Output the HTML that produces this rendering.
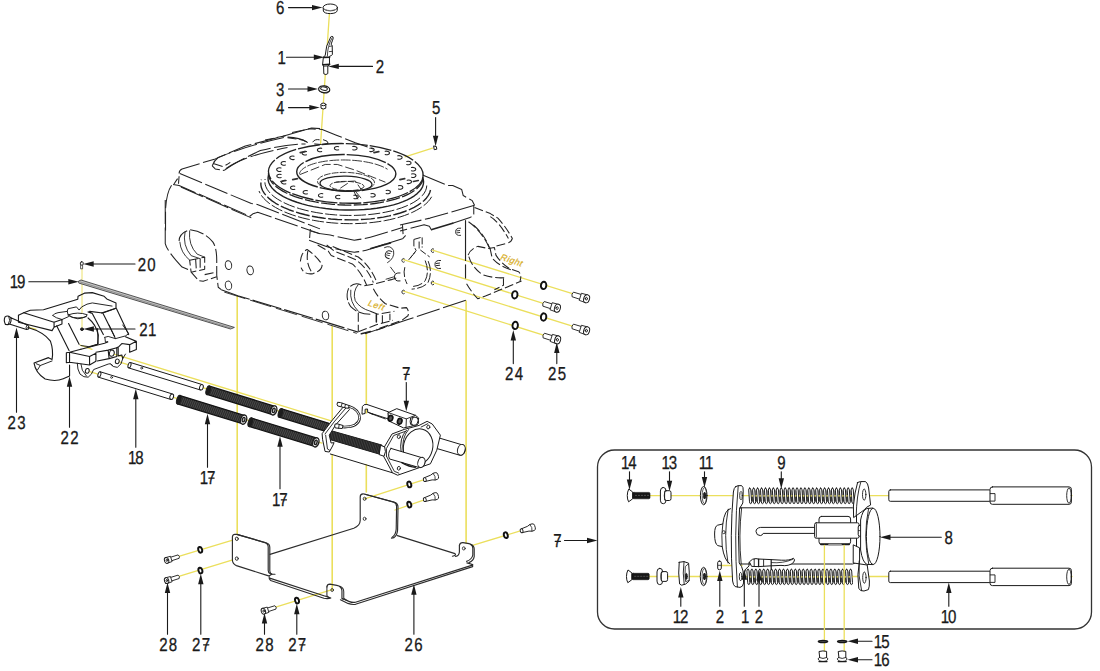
<!DOCTYPE html>
<html lang="en">
<head>
<meta charset="utf-8">
<title>Exploded view - parts diagram</title>
<style>
html,body{margin:0;padding:0;background:#fff;}
body{width:1100px;height:671px;overflow:hidden;font-family:"Liberation Sans",sans-serif;}
svg{display:block;}
svg text{font-family:"Liberation Sans",sans-serif;text-rendering:geometricPrecision;}
</style>
</head>
<body>
<svg width="1100" height="671" viewBox="0 0 1100 671" stroke-linecap="round" stroke-linejoin="round">
<rect x="0" y="0" width="1100" height="671" fill="#ffffff"/>
<line x1="329.4" y1="13.6" x2="320.6" y2="143.6" stroke="#ebdf5c" stroke-width="1.3"/>
<line x1="405" y1="156.8" x2="432.5" y2="148.2" stroke="#ebdf5c" stroke-width="1.3"/>
<line x1="237.2" y1="296.5" x2="237.2" y2="534" stroke="#ebdf5c" stroke-width="1.6"/>
<line x1="332.2" y1="326.5" x2="332.2" y2="590" stroke="#ebdf5c" stroke-width="1.6"/>
<line x1="366.3" y1="334" x2="366.3" y2="492" stroke="#ebdf5c" stroke-width="1.6"/>
<line x1="466.1" y1="301" x2="466.1" y2="543" stroke="#ebdf5c" stroke-width="1.6"/>
<line x1="432.5" y1="250.2" x2="574" y2="294.2" stroke="#ebdf5c" stroke-width="1.3"/>
<line x1="403.5" y1="259.6" x2="544" y2="303.6" stroke="#ebdf5c" stroke-width="1.3"/>
<line x1="432.5" y1="282.4" x2="574" y2="326.6" stroke="#ebdf5c" stroke-width="1.3"/>
<line x1="403.5" y1="291.2" x2="545" y2="335.6" stroke="#ebdf5c" stroke-width="1.3"/>
<line x1="82" y1="268" x2="82" y2="328" stroke="#ebdf5c" stroke-width="0.9"/>
<line x1="26.4" y1="326.6" x2="36" y2="329.4" stroke="#ebdf5c" stroke-width="1.3"/>
<line x1="111.7" y1="353.4" x2="332" y2="421.1" stroke="#ebdf5c" stroke-width="1.3"/>
<line x1="117.4" y1="361.4" x2="331" y2="427.1" stroke="#ebdf5c" stroke-width="1.3"/>
<line x1="87.3" y1="370.9" x2="322" y2="443.1" stroke="#ebdf5c" stroke-width="1.3"/>
<line x1="80" y1="345" x2="92" y2="349.4" stroke="#ebdf5c" stroke-width="1.3"/>
<line x1="236.8" y1="538.8" x2="178" y2="556.6" stroke="#ebdf5c" stroke-width="1.3"/>
<line x1="236.8" y1="558.6" x2="178" y2="576.6" stroke="#ebdf5c" stroke-width="1.3"/>
<line x1="332" y1="589.6" x2="274" y2="607.6" stroke="#ebdf5c" stroke-width="1.3"/>
<line x1="364.5" y1="498.8" x2="425" y2="479.4" stroke="#ebdf5c" stroke-width="1.3"/>
<line x1="395" y1="510" x2="425" y2="499.6" stroke="#ebdf5c" stroke-width="1.3"/>
<line x1="472.5" y1="545.4" x2="522" y2="530.4" stroke="#ebdf5c" stroke-width="1.3"/>
<line x1="649" y1="495.6" x2="1072" y2="495.6" stroke="#ebdf5c" stroke-width="1.3"/>
<line x1="649" y1="576.5" x2="1072" y2="576.5" stroke="#ebdf5c" stroke-width="1.3"/>
<line x1="721" y1="565.5" x2="742" y2="565.5" stroke="#ebdf5c" stroke-width="1.3"/>
<path d="M179.09 173.48Q179.09 170.17 182.1 168.96L215.22 158.88L245.33 146.08L282.97 136.29L311.58 128.01L320.01 128.61" stroke="#222" stroke-width="1.05" fill="none" stroke-dasharray="24 3.6" stroke-linecap="butt"/>
<path d="M179.84 173.48L216.73 188.99L251.36 203.59L257.38 204.49L269.42 209.31L320.01 228.88" stroke="#222" stroke-width="1.05" fill="none" stroke-dasharray="24 3.6" stroke-linecap="butt"/>
<path d="M173.07 184.47L179.09 185.52L249.85 216.24L252.86 213.83L257.68 212.32L320.01 233.7" stroke="#222" stroke-width="1.05" fill="none" stroke-dasharray="24 3.6" stroke-linecap="butt"/>
<path d="M180.9 187.03L251.36 217.89" stroke="#222" stroke-width="1.05" fill="none" stroke-dasharray="24 3.6" stroke-linecap="butt"/>
<path d="M179.09 176.19L178.49 183.72M177.58 178.6L173.97 184.02" stroke="#222" stroke-width="1.05" fill="none" stroke-dasharray="9 3" stroke-linecap="butt"/>
<path d="M171.56 185.22Q166.44 192.75 165.54 209.31L165.54 230.39" stroke="#222" stroke-width="1.05" fill="none" stroke-dasharray="24 3.6" stroke-linecap="butt"/>
<path d="M212.21 165.95Q214.02 160.53 218.23 157.52Q245.33 146.08 285.98 137.04Q299.53 137.65 307.06 141.86" stroke="#222" stroke-width="1.05" fill="none" stroke-dasharray="24 3.6" stroke-linecap="butt"/>
<path d="M224.26 170.47Q233.29 162.94 260.39 150.59Q284.48 144.27 305.56 143.97" stroke="#222" stroke-width="1.05" fill="none" stroke-dasharray="24 3.6" stroke-linecap="butt"/>
<path d="M212.21 165.95L215.22 168.96L224.26 170.47M214.02 163.84L223.05 166.55Q227.27 164.45 230.28 162.34" stroke="#222" stroke-width="1.05" fill="none" stroke-dasharray="9 3" stroke-linecap="butt"/>
<path d="M225.76 168.66Q245.33 155.11 287.49 147.58" stroke="#222" stroke-width="1.05" fill="none" stroke-dasharray="24 3.6" stroke-linecap="butt"/>
<ellipse cx="345.8" cy="173.4" rx="77.4" ry="29.8" stroke="#222" stroke-width="1.35" fill="none" transform="rotate(1.5 345.8 173.4)" stroke-dasharray="22 2" stroke-linecap="butt"/>
<path d="M423.17 177.23 L422.87 179.56 L422.1 181.86 L420.85 184.12 L419.15 186.33 L416.99 188.47 L414.39 190.53 L411.36 192.49 L407.94 194.35 L404.13 196.09 L399.96 197.7 L395.46 199.17 L390.65 200.49 L385.56 201.66 L380.23 202.66 L374.69 203.5 L368.97 204.16 L363.1 204.64 L357.13 204.94 L351.09 205.06 L345.02 204.99 L338.95 204.74 L332.93 204.31 L326.98 203.69 L321.15 202.91 L315.47 201.95 L309.98 200.82 L304.71 199.54 L299.69 198.11 L294.96 196.54 L290.54 194.83 L286.46 193.01 L282.75 191.07 L279.42 189.04 L276.51 186.92 L274.02 184.73 L271.97 182.48 L270.38 180.18 L269.26 177.86 L268.6 175.52 L268.43 173.17" stroke="#222" stroke-width="1.3" fill="none" stroke-dasharray="14 2.4" stroke-linecap="butt"/>
<path d="M423.23 179.11 L423.57 181.61 L423.37 184.1 L422.63 186.57 L421.34 188.99 L419.53 191.34 L417.19 193.62 L414.36 195.81 L411.05 197.88 L407.28 199.83 L403.07 201.65 L398.47 203.31 L393.5 204.81 L388.19 206.14 L382.58 207.29 L376.72 208.24 L370.64 209 L364.39 209.56 L358 209.91 L351.53 210.06 L345.02 209.99 L338.51 209.71 L332.06 209.23 L325.7 208.55 L319.49 207.66 L313.45 206.59 L307.65 205.32 L302.11 203.89 L296.88 202.28 L291.99 200.52 L287.48 198.62 L283.38 196.59 L279.72 194.44 L276.52 192.2 L273.8 189.87 L271.59 187.47 L269.9 185.02 L268.75 182.54 L268.13 180.04 L268.06 177.54 L268.53 175.06" stroke="#222" stroke-width="1.4" fill="none"/>
<path d="M426.77 185.52 L426.44 188.08 L425.6 190.61 L424.24 193.09 L422.37 195.51 L420.01 197.85 L417.17 200.1 L413.87 202.24 L410.14 204.26 L405.98 206.15 L401.45 207.88 L396.55 209.46 L391.32 210.88 L385.81 212.11 L380.03 213.16 L374.04 214.02 L367.86 214.69 L361.54 215.15 L355.12 215.4 L348.64 215.45 L342.14 215.3 L335.66 214.93 L329.25 214.37 L322.95 213.6 L316.79 212.64 L310.82 211.5 L305.08 210.17 L299.59 208.67 L294.41 207 L289.56 205.19 L285.07 203.23 L280.97 201.14 L277.28 198.95 L274.04 196.65 L271.26 194.26 L268.97 191.81 L267.16 189.3 L265.87 186.76 L265.09 184.19 L264.82 181.61 L265.08 179.05" stroke="#222" stroke-width="1" fill="none" stroke-dasharray="12 2.4" stroke-linecap="butt"/>
<path d="M430.5 190.02 L429.69 192.71 L428.36 195.36 L426.5 197.95 L424.13 200.45 L421.27 202.86 L417.94 205.17 L414.15 207.34 L409.92 209.38 L405.3 211.27 L400.3 212.99 L394.96 214.54 L389.3 215.91 L383.37 217.09 L377.21 218.06 L370.85 218.83 L364.33 219.39 L357.69 219.73 L350.98 219.86 L344.23 219.77 L337.5 219.46 L330.81 218.94 L324.23 218.21 L317.77 217.27 L311.5 216.13 L305.44 214.8 L299.63 213.28 L294.12 211.58 L288.93 209.72 L284.1 207.71 L279.66 205.56 L275.64 203.28 L272.06 200.88 L268.94 198.39 L266.31 195.82 L264.17 193.18 L262.56 190.49 L261.47 187.77 L260.9 185.04 L260.88 182.31 L261.39 179.59" stroke="#222" stroke-width="1.4" fill="none" stroke-dasharray="14 2.4" stroke-linecap="butt"/>
<path d="M431.65 196.78 L430.12 199.2 L428.19 201.55 L425.87 203.84 L423.17 206.05 L420.1 208.16 L416.68 210.18 L412.92 212.08 L408.84 213.87 L404.47 215.53 L399.81 217.05 L394.9 218.42 L389.75 219.65 L384.4 220.72 L378.86 221.63 L373.17 222.38 L367.34 222.96 L361.42 223.37 L355.41 223.6 L349.37 223.66 L343.3 223.54 L337.25 223.25 L331.24 222.79 L325.3 222.16 L319.45 221.36 L313.73 220.39 L308.17 219.27 L302.78 217.99 L297.6 216.57 L292.64 215 L287.94 213.3 L283.51 211.48 L279.38 209.54 L275.56 207.49 L272.08 205.34 L268.95 203.1 L266.18 200.79 L263.79 198.42 L261.79 195.98 L260.19 193.51 L259 191" stroke="#222" stroke-width="1" fill="none" stroke-dasharray="12 2.4" stroke-linecap="butt"/>
<ellipse cx="346.3" cy="172.8" rx="49.6" ry="18.2" stroke="#222" stroke-width="1.4" fill="none" transform="rotate(1.5 346.3 172.8)" stroke-dasharray="40 2" stroke-linecap="butt"/>
<path d="M299.53 173.38 L299.91 172.38 L300.47 171.4 L301.22 170.44 L302.15 169.5 L303.26 168.59 L304.53 167.7 L305.98 166.85 L307.58 166.04 L309.34 165.26 L311.25 164.53 L313.3 163.84 L315.48 163.21 L317.79 162.62 L320.2 162.09 L322.73 161.61 L325.34 161.19 L328.04 160.83 L330.82 160.53 L333.65 160.29 L336.54 160.12 L339.47 160.01 L342.42 159.96 L345.39 159.98 L348.36 160.06 L351.32 160.2 L354.27 160.41 L357.18 160.68 L360.05 161.01 L362.86 161.41 L365.61 161.86 L368.28 162.36 L370.86 162.92 L373.34 163.54 L375.72 164.2 L377.97 164.91 L380.1 165.67 L382.1 166.46 L383.95 167.3 L385.65 168.17 L387.2 169.07" stroke="#222" stroke-width="0.9" fill="none" stroke-dasharray="9 2.4"/>
<ellipse cx="346" cy="183.8" rx="26" ry="7.6" stroke="#222" stroke-width="1.3" fill="none" transform="rotate(1.5 346 183.8)"/>
<path d="M321.2 186.15 L319.82 185.18 L318.75 184.17 L318.01 183.14 L317.6 182.09 L317.52 181.04 L317.79 180.01 L318.39 178.99 L319.31 178.02 L320.56 177.09 L322.11 176.21 L323.94 175.41 L326.03 174.69 L328.36 174.05 L330.9 173.51 L333.62 173.06 L336.49 172.73 L339.47 172.5 L342.53 172.39 L345.63 172.39 L348.73 172.5 L351.8 172.73 L354.81 173.07 L357.7 173.52 L360.46 174.06 L363.05 174.7 L365.43 175.43 L367.59 176.23 L369.48 177.11 L371.1 178.04 L372.42 179.02 L373.42 180.03 L374.1 181.07 L374.45 182.12 L374.45 183.16 L374.12 184.2 L373.45 185.2 L372.46 186.17 L371.16 187.09 L369.55 187.95 L367.66 188.74" stroke="#222" stroke-width="0.9" fill="none" stroke-dasharray="6 2"/>
<ellipse cx="347" cy="186" rx="17" ry="4.6" stroke="#222" stroke-width="0.9" fill="none" transform="rotate(1.5 347 186)" stroke-dasharray="5 2"/>
<path d="M335.76 182.21L355.33 181.01L361.36 189.74M340.28 188.23L349.31 182.21M353.83 191.25L358.35 200.28M355.33 191.25L362.86 200.28M299.63 174.68L325.22 164.45L337.27 164.45L355.33 170.17L385.45 182.21" stroke="#222" stroke-width="0.9" fill="none" stroke-dasharray="9 3" stroke-linecap="butt"/>
<path d="M411.6 174 A3.0 1.8 0 1 1 411.6 177.2" stroke="#222" stroke-width="1.05" fill="none"/>
<path d="M407.18 180.22 A3.0 1.8 0 1 1 407.18 183.42" stroke="#222" stroke-width="1.05" fill="none"/>
<path d="M398.49 185.8 A3.0 1.8 0 1 1 398.49 189" stroke="#222" stroke-width="1.05" fill="none"/>
<path d="M386.12 190.39 A3.0 1.8 0 1 1 386.12 193.59" stroke="#222" stroke-width="1.05" fill="none"/>
<path d="M370.91 193.64 A3.0 1.8 0 1 1 370.91 196.84" stroke="#222" stroke-width="1.05" fill="none"/>
<path d="M353.91 195.36 A3.0 1.8 0 1 1 353.91 198.56" stroke="#222" stroke-width="1.05" fill="none"/>
<path d="M339.86 195.42 A3.0 1.8 0 1 0 339.86 198.62" stroke="#222" stroke-width="1.05" fill="none"/>
<path d="M322.78 193.81 A3.0 1.8 0 1 0 322.78 197.01" stroke="#222" stroke-width="1.05" fill="none"/>
<path d="M307.42 190.65 A3.0 1.8 0 1 0 307.42 193.85" stroke="#222" stroke-width="1.05" fill="none"/>
<path d="M294.83 186.15 A3.0 1.8 0 1 0 294.83 189.35" stroke="#222" stroke-width="1.05" fill="none"/>
<path d="M285.87 180.61 A3.0 1.8 0 1 0 285.87 183.81" stroke="#222" stroke-width="1.05" fill="none"/>
<path d="M281.16 174.42 A3.0 1.8 0 1 0 281.16 177.62" stroke="#222" stroke-width="1.05" fill="none"/>
<path d="M281 168 A3.0 1.8 0 1 0 281 171.2" stroke="#222" stroke-width="1.05" fill="none"/>
<path d="M285.42 161.78 A3.0 1.8 0 1 0 285.42 164.98" stroke="#222" stroke-width="1.05" fill="none"/>
<path d="M294.11 156.2 A3.0 1.8 0 1 0 294.11 159.4" stroke="#222" stroke-width="1.05" fill="none"/>
<path d="M306.48 151.61 A3.0 1.8 0 1 0 306.48 154.81" stroke="#222" stroke-width="1.05" fill="none"/>
<path d="M321.69 148.36 A3.0 1.8 0 1 0 321.69 151.56" stroke="#222" stroke-width="1.05" fill="none"/>
<path d="M338.69 146.64 A3.0 1.8 0 1 0 338.69 149.84" stroke="#222" stroke-width="1.05" fill="none"/>
<path d="M352.74 146.58 A3.0 1.8 0 1 1 352.74 149.78" stroke="#222" stroke-width="1.05" fill="none"/>
<path d="M369.82 148.19 A3.0 1.8 0 1 1 369.82 151.39" stroke="#222" stroke-width="1.05" fill="none"/>
<path d="M385.18 151.35 A3.0 1.8 0 1 1 385.18 154.55" stroke="#222" stroke-width="1.05" fill="none"/>
<path d="M397.77 155.85 A3.0 1.8 0 1 1 397.77 159.05" stroke="#222" stroke-width="1.05" fill="none"/>
<path d="M406.73 161.39 A3.0 1.8 0 1 1 406.73 164.59" stroke="#222" stroke-width="1.05" fill="none"/>
<path d="M411.44 167.58 A3.0 1.8 0 1 1 411.44 170.78" stroke="#222" stroke-width="1.05" fill="none"/>
<line x1="292.71" y1="179.7" x2="297.51" y2="178.7" stroke="#333" stroke-width="1.7"/>
<line x1="280.97" y1="181.51" x2="285.77" y2="180.51" stroke="#333" stroke-width="1.7"/>
<line x1="399.91" y1="179.7" x2="404.71" y2="178.7" stroke="#333" stroke-width="1.7"/>
<line x1="413.46" y1="181.51" x2="418.26" y2="180.51" stroke="#333" stroke-width="1.7"/>
<line x1="374.01" y1="152.6" x2="378.81" y2="151.6" stroke="#333" stroke-width="1.7"/>
<line x1="300.24" y1="152.6" x2="305.04" y2="151.6" stroke="#333" stroke-width="1.7"/>
<path d="M312.88 141.86Q314.68 138.85 319.2 139.75M323.42 139.75Q328.23 140.66 328.23 143.37Q322.21 145.48 314.68 143.97" stroke="#222" stroke-width="1" fill="none"/>
<path d="M292.1 132.53L310.17 128.76L322.21 129.52L335.76 134.94L355.33 142.77L373.4 149.09" stroke="#222" stroke-width="1.05" fill="none" stroke-dasharray="24 3.6" stroke-linecap="butt"/>
<path d="M265 140.06L286.08 135.54M287.58 137.65L302.64 140.06L308.66 143.07" stroke="#222" stroke-width="1.05" fill="none" stroke-dasharray="9 3" stroke-linecap="butt"/>
<path d="M422.58 175.06L448.18 185.59L452.69 185.59L461.73 189.51L463.23 195.53L472.27 200.65L474.53 205.17" stroke="#222" stroke-width="1.05" fill="none" stroke-dasharray="24 3.6" stroke-linecap="butt"/>
<path d="M474.53 205.17L430.11 218.12L400 225.04" stroke="#222" stroke-width="1.05" fill="none" stroke-dasharray="24 3.6" stroke-linecap="butt"/>
<path d="M473.77 205.47L473.77 214.2L470.76 217.21" stroke="#222" stroke-width="1.05" fill="none" stroke-dasharray="9 3" stroke-linecap="butt"/>
<path d="M470.76 217.21L452.69 223.23M431.62 230.16L429.36 226.25L424.09 224.74L400 231.06" stroke="#222" stroke-width="1.05" fill="none" stroke-dasharray="24 3.6" stroke-linecap="butt"/>
<path d="M431.92 229.56L452.69 223.23" stroke="#222" stroke-width="1.7" fill="none"/>
<path d="M465.52 220.48L465.52 260.53M465.52 264.75L465.52 278" stroke="#222" stroke-width="1.15" fill="none"/>
<path d="M474.53 207.58L490.33 213.6L497.86 218.12Q505.39 226.25 512.32 238.29Q511.41 242.51 505.39 243.71L496.36 246.12" stroke="#222" stroke-width="1.05" fill="none" stroke-dasharray="9 3" stroke-linecap="butt"/>
<path d="M490.33 216.61Q499.37 222.03 508.4 238.59" stroke="#222" stroke-width="1.05" fill="none" stroke-dasharray="9 3" stroke-linecap="butt"/>
<path d="M468.5 221.73Q481.3 230.76 489.13 247.32" stroke="#222" stroke-width="1.05" fill="none" stroke-dasharray="9 3" stroke-linecap="butt"/>
<path d="M473.35 225Q485.39 235.54 489.91 249.09M466.57 283.72Q471.84 292.75 477.86 298.77L485.39 296.06L521.52 281.01" stroke="#222" stroke-width="1.05" fill="none" stroke-dasharray="9 3" stroke-linecap="butt"/>
<path d="M468.08 255.11Q470.33 249.09 477.86 246.38L488.4 248.49L494.42 247.58L495.93 255.11Q500.45 262.64 509.48 268.66L518.51 271.67Q522.13 274.68 520.02 281.01" stroke="#222" stroke-width="1.05" fill="none" stroke-dasharray="9 3" stroke-linecap="butt"/>
<path d="M468.83 256.62Q471.84 267.16 482.38 274.68Q494.42 278.6 504.96 277.69M503.46 277.69L503.46 285.22L494.42 289.74M489.91 247.58L492.17 258.12Q500.45 267.16 512.49 270.17" stroke="#222" stroke-width="1.05" fill="none" stroke-dasharray="9 3" stroke-linecap="butt"/>
<path d="M465.82 300.28L407.1 319.85L364.94 333.7" stroke="#222" stroke-width="1.05" fill="none" stroke-dasharray="24 3.6" stroke-linecap="butt"/>
<path d="M404.84 267.16Q402.58 274.68 407.1 284.02M408.61 259.93L414.93 252.4M428.18 261.13Q432.69 271.67 428.18 282.21Q423.66 288.23 411.62 289.14M425.17 260.53Q429.68 271.67 425.17 280.71Q420.65 285.83 413.12 286.43" stroke="#222" stroke-width="1" fill="none" stroke-dasharray="10 2.4" stroke-linecap="butt"/>
<path d="M413.88 239.45L422.16 237.04L422.16 247.58M413.88 239.45L413.88 246.08L416.13 250.59L410.11 258.12M419.14 241.56L419.14 249.09L425.17 253.61L429.68 256.92" stroke="#222" stroke-width="1" fill="none" stroke-dasharray="7 2" stroke-linecap="butt"/>
<g transform="translate(388.28 254.36) rotate(20) scale(0.95)" fill="none" stroke="#222" stroke-width="1"><path d="M2.6 -4 Q-3 -4.6 -3 0 Q-3 4.8 2.6 4"/><path d="M-1.6 -1 L1.6 -1.4 M-1.6 1.2 L1.6 0.8"/></g>
<g transform="translate(397.46 276.94) rotate(0) scale(1)" fill="none" stroke="#222" stroke-width="1"><path d="M2.6 -4 Q-3 -4.6 -3 0 Q-3 4.8 2.6 4"/></g>
<g transform="translate(437.96 264.45) rotate(0) scale(1)" fill="none" stroke="#222" stroke-width="1"><path d="M2.6 -4 Q-3 -4.6 -3 0 Q-3 4.8 2.6 4"/><path d="M-1.6 -1 L1.6 -1.4 M-1.6 1.2 L1.6 0.8"/></g>
<g transform="translate(458.29 231.78) rotate(0) scale(0.9)" fill="none" stroke="#222" stroke-width="1"><path d="M2.6 -4 Q-3 -4.6 -3 0 Q-3 4.8 2.6 4"/><path d="M-1.6 -1 L1.6 -1.4 M-1.6 1.2 L1.6 0.8"/></g>
<path d="M384.52 247.58Q390.54 244.57 393.55 250.59Q395.06 258.12 387.53 262.64M390.54 267.16L395.06 273.18M386.02 279.2L393.55 276.94" stroke="#222" stroke-width="0.9" fill="none"/>
<path d="M433.69 248.99 A1.6 1.9 0 1 0 433.69 252.19" stroke="#222" stroke-width="0.9" fill="none"/>
<path d="M404.34 258.78 A1.6 1.9 0 1 0 404.34 261.98" stroke="#222" stroke-width="0.9" fill="none"/>
<path d="M433.69 281.36 A1.6 1.9 0 1 0 433.69 284.56" stroke="#222" stroke-width="0.9" fill="none"/>
<path d="M404.34 290.4 A1.6 1.9 0 1 0 404.34 293.6" stroke="#222" stroke-width="0.9" fill="none"/>
<path d="M165.24 199.94L165.24 243.61Q167.04 251.13 182.1 267.09L189.63 270.1" stroke="#222" stroke-width="1.05" fill="none" stroke-dasharray="24 3.6" stroke-linecap="butt"/>
<path d="M179.09 240.9Q179.09 233.07 189.63 229.75Q204.68 231.56 212.96 242.1Q216.73 248.12 216.73 260.17L216.73 275.22L218.23 287.27L221.25 289.68" stroke="#222" stroke-width="1.05" fill="none" stroke-dasharray="14 3" stroke-linecap="butt"/>
<path d="M185.11 231.56Q182.1 245.11 191.13 255.65L200.17 258.66M189.63 230.81Q188.12 245.11 197.16 254.14L204.68 257.16M179.84 242.1Q180.59 252.64 189.63 260.17" stroke="#222" stroke-width="0.9" fill="none"/>
<path d="M189.63 260.17L204.68 257.16L204.68 269.2L191.13 272.21ZM195.65 259.41L196.4 271.01M200.17 258.66L200.17 270.1M191.13 272.21L198.66 280.64L203.18 281.25L216.73 276.73M204.68 274.62L216.73 272.21" stroke="#222" stroke-width="1.05" fill="none" stroke-dasharray="9 3" stroke-linecap="butt"/>
<path d="M221.25 289.68L237.81 295.7L320.01 320.39L358.25 332.13" stroke="#222" stroke-width="1.1" fill="none" stroke-dasharray="30 3" stroke-linecap="butt"/>
<path d="M224.26 292.09L320.01 321.9L356.75 333.34" stroke="#222" stroke-width="0.9" fill="none" stroke-dasharray="22 5" stroke-linecap="butt"/>
<ellipse cx="228.47" cy="265.14" rx="3.2" ry="4.4" stroke="#222" stroke-width="0.95" fill="none" transform="rotate(-10 228.47 265.14)"/>
<ellipse cx="250.15" cy="270.4" rx="3.2" ry="4.4" stroke="#222" stroke-width="0.95" fill="none" transform="rotate(-10 250.15 270.4)"/>
<ellipse cx="228.47" cy="285.46" rx="3.2" ry="4.4" stroke="#222" stroke-width="0.95" fill="none" transform="rotate(-10 228.47 285.46)"/>
<ellipse cx="325.5" cy="315.5" rx="3.2" ry="4.4" stroke="#222" stroke-width="0.95" fill="none" transform="rotate(-10 325.5 315.5)"/>
<path d="M300.33 261.56Q301.08 252.53 307.1 249.52Q316.13 255.54 322.16 264.57Q322.16 270.59 313.12 273.61Q304.09 275.11 301.08 267.58" stroke="#222" stroke-width="1.05" fill="none" stroke-dasharray="9 3" stroke-linecap="butt"/>
<path d="M307.85 251.02Q305.59 263.07 311.62 272.1" stroke="#222" stroke-width="1.05" fill="none" stroke-dasharray="9 3" stroke-linecap="butt"/>
<path d="M317.64 245L328.18 251.02L331.19 255.54L352.27 263.97Q361.3 272.1 366.57 285.05" stroke="#222" stroke-width="1.05" fill="none" stroke-dasharray="9 3" stroke-linecap="butt"/>
<path d="M326.67 245L334.2 251.02L355.28 259.45Q367.32 267.58 373.35 282.64" stroke="#222" stroke-width="1.05" fill="none" stroke-dasharray="9 3" stroke-linecap="butt"/>
<path d="M332.69 246.51L358.29 257.04Q370.33 266.08 376.36 281.13" stroke="#222" stroke-width="1.05" fill="none" stroke-dasharray="9 3" stroke-linecap="butt"/>
<path d="M364.31 285.65L373.35 284.14L391.41 279.63L396.23 278.12" stroke="#222" stroke-width="1.05" fill="none" stroke-dasharray="9 3" stroke-linecap="butt"/>
<path d="M361.3 285.05Q353.77 281.13 348.5 288.66Q344.74 297.69 350.76 306.73Q358.29 314.26 370.33 314.26" stroke="#222" stroke-width="1.05" fill="none" stroke-dasharray="12 2.4" stroke-linecap="butt"/>
<path d="M358.29 284.45Q352.27 291.67 355.28 300.71Q359.8 308.23 370.33 311.25M350.76 290.17Q349.26 302.21 358.29 311.25" stroke="#222" stroke-width="0.9" fill="none"/>
<path d="M373.35 288.66Q377.86 297.69 385.39 303.72L400.45 308.23L406.47 307.63Q409.48 311.25 407.97 315.76L401.95 320.28L376.36 329.31" stroke="#222" stroke-width="1.05" fill="none" stroke-dasharray="9 3" stroke-linecap="butt"/>
<path d="M358.29 312.75L358.29 331.12M382.38 315.16L382.38 323.29M389.91 313.65L389.91 320.28M358.29 331.72L376.36 324.8L392.92 320.28M370.33 311.25L377.86 314.26L394.42 311.25" stroke="#222" stroke-width="1.05" fill="none" stroke-dasharray="9 3" stroke-linecap="butt"/>
<path d="M376.36 314.56L376.36 322.09M361.3 333.83L370.33 331.42" stroke="#222" stroke-width="1.5" fill="none"/>
<path d="M376.36 330.22L394.42 323.89" stroke="#222" stroke-width="1.05" fill="none" stroke-dasharray="9 3" stroke-linecap="butt"/>
<path d="M310.65 231.13Q319.68 234.45 330.22 235.05Q342.27 237.76 354.31 240.17Q366.36 238.66 375.39 235.65L402.49 227.52" stroke="#222" stroke-width="1.05" fill="none" stroke-dasharray="24 3.6" stroke-linecap="butt"/>
<path d="M309.14 240.17L325.71 246.19Q340.76 250.71 354.31 252.21Q363.35 251.31 369.37 249.2L402.49 238.66" stroke="#222" stroke-width="1.05" fill="none" stroke-dasharray="24 3.6" stroke-linecap="butt"/>
<path d="M310.35 229.03L309.45 240.17M402.49 225.11L403.09 234.45L405.5 235.65L402.49 238.96" stroke="#222" stroke-width="1.05" fill="none" stroke-dasharray="9 3" stroke-linecap="butt"/>
<path d="M370.87 248.6L390.45 242.88" stroke="#222" stroke-width="1.6" fill="none"/>
<rect x="749.7" y="490.3" width="103.4" height="6.4" fill="#9a9a9a"/>
<rect x="749.7" y="496.5" width="103.4" height="5.2" fill="#4a4a4a"/>
<rect x="749.11" y="488.1" width="2.13" height="15.6" rx="1.06" ry="1.92" fill="#fff" stroke="#1e1e1e" stroke-width="0.95" transform="rotate(-4 750.17 495.9)"/>
<rect x="753.05" y="488.1" width="2.13" height="15.6" rx="1.06" ry="1.92" fill="#fff" stroke="#1e1e1e" stroke-width="0.95" transform="rotate(-4 754.11 495.9)"/>
<rect x="756.99" y="488.1" width="2.13" height="15.6" rx="1.06" ry="1.92" fill="#fff" stroke="#1e1e1e" stroke-width="0.95" transform="rotate(-4 758.05 495.9)"/>
<rect x="760.93" y="488.1" width="2.13" height="15.6" rx="1.06" ry="1.92" fill="#fff" stroke="#1e1e1e" stroke-width="0.95" transform="rotate(-4 761.99 495.9)"/>
<rect x="764.87" y="488.1" width="2.13" height="15.6" rx="1.06" ry="1.92" fill="#fff" stroke="#1e1e1e" stroke-width="0.95" transform="rotate(-4 765.93 495.9)"/>
<rect x="768.81" y="488.1" width="2.13" height="15.6" rx="1.06" ry="1.92" fill="#fff" stroke="#1e1e1e" stroke-width="0.95" transform="rotate(-4 769.87 495.9)"/>
<rect x="772.75" y="488.1" width="2.13" height="15.6" rx="1.06" ry="1.92" fill="#fff" stroke="#1e1e1e" stroke-width="0.95" transform="rotate(-4 773.81 495.9)"/>
<rect x="776.69" y="488.1" width="2.13" height="15.6" rx="1.06" ry="1.92" fill="#fff" stroke="#1e1e1e" stroke-width="0.95" transform="rotate(-4 777.76 495.9)"/>
<rect x="780.63" y="488.1" width="2.13" height="15.6" rx="1.06" ry="1.92" fill="#fff" stroke="#1e1e1e" stroke-width="0.95" transform="rotate(-4 781.7 495.9)"/>
<rect x="784.57" y="488.1" width="2.13" height="15.6" rx="1.06" ry="1.92" fill="#fff" stroke="#1e1e1e" stroke-width="0.95" transform="rotate(-4 785.64 495.9)"/>
<rect x="788.51" y="488.1" width="2.13" height="15.6" rx="1.06" ry="1.92" fill="#fff" stroke="#1e1e1e" stroke-width="0.95" transform="rotate(-4 789.58 495.9)"/>
<rect x="792.45" y="488.1" width="2.13" height="15.6" rx="1.06" ry="1.92" fill="#fff" stroke="#1e1e1e" stroke-width="0.95" transform="rotate(-4 793.52 495.9)"/>
<rect x="796.4" y="488.1" width="2.13" height="15.6" rx="1.06" ry="1.92" fill="#fff" stroke="#1e1e1e" stroke-width="0.95" transform="rotate(-4 797.46 495.9)"/>
<rect x="800.34" y="488.1" width="2.13" height="15.6" rx="1.06" ry="1.92" fill="#fff" stroke="#1e1e1e" stroke-width="0.95" transform="rotate(-4 801.4 495.9)"/>
<rect x="804.28" y="488.1" width="2.13" height="15.6" rx="1.06" ry="1.92" fill="#fff" stroke="#1e1e1e" stroke-width="0.95" transform="rotate(-4 805.34 495.9)"/>
<rect x="808.22" y="488.1" width="2.13" height="15.6" rx="1.06" ry="1.92" fill="#fff" stroke="#1e1e1e" stroke-width="0.95" transform="rotate(-4 809.28 495.9)"/>
<rect x="812.16" y="488.1" width="2.13" height="15.6" rx="1.06" ry="1.92" fill="#fff" stroke="#1e1e1e" stroke-width="0.95" transform="rotate(-4 813.22 495.9)"/>
<rect x="816.1" y="488.1" width="2.13" height="15.6" rx="1.06" ry="1.92" fill="#fff" stroke="#1e1e1e" stroke-width="0.95" transform="rotate(-4 817.16 495.9)"/>
<rect x="820.04" y="488.1" width="2.13" height="15.6" rx="1.06" ry="1.92" fill="#fff" stroke="#1e1e1e" stroke-width="0.95" transform="rotate(-4 821.1 495.9)"/>
<rect x="823.98" y="488.1" width="2.13" height="15.6" rx="1.06" ry="1.92" fill="#fff" stroke="#1e1e1e" stroke-width="0.95" transform="rotate(-4 825.04 495.9)"/>
<rect x="827.92" y="488.1" width="2.13" height="15.6" rx="1.06" ry="1.92" fill="#fff" stroke="#1e1e1e" stroke-width="0.95" transform="rotate(-4 828.99 495.9)"/>
<rect x="831.86" y="488.1" width="2.13" height="15.6" rx="1.06" ry="1.92" fill="#fff" stroke="#1e1e1e" stroke-width="0.95" transform="rotate(-4 832.93 495.9)"/>
<rect x="835.8" y="488.1" width="2.13" height="15.6" rx="1.06" ry="1.92" fill="#fff" stroke="#1e1e1e" stroke-width="0.95" transform="rotate(-4 836.87 495.9)"/>
<rect x="839.74" y="488.1" width="2.13" height="15.6" rx="1.06" ry="1.92" fill="#fff" stroke="#1e1e1e" stroke-width="0.95" transform="rotate(-4 840.81 495.9)"/>
<rect x="843.68" y="488.1" width="2.13" height="15.6" rx="1.06" ry="1.92" fill="#fff" stroke="#1e1e1e" stroke-width="0.95" transform="rotate(-4 844.75 495.9)"/>
<rect x="847.62" y="488.1" width="2.13" height="15.6" rx="1.06" ry="1.92" fill="#fff" stroke="#1e1e1e" stroke-width="0.95" transform="rotate(-4 848.69 495.9)"/>
<rect x="851.57" y="488.1" width="2.13" height="15.6" rx="1.06" ry="1.92" fill="#fff" stroke="#1e1e1e" stroke-width="0.95" transform="rotate(-4 852.63 495.9)"/>
<line x1="751.53" y1="495.9" x2="854.6" y2="495.9" stroke="#ebdf5c" stroke-width="1.2" stroke-dasharray="1.5 2.44" stroke-linecap="butt"/>
<rect x="747.9" y="571.4" width="103.6" height="6.3" fill="#9a9a9a"/>
<rect x="747.9" y="577.5" width="103.6" height="5.1" fill="#4a4a4a"/>
<rect x="747.31" y="569.2" width="2.13" height="15.4" rx="1.07" ry="1.92" fill="#fff" stroke="#1e1e1e" stroke-width="0.95" transform="rotate(-4 748.37 576.9)"/>
<rect x="751.26" y="569.2" width="2.13" height="15.4" rx="1.07" ry="1.92" fill="#fff" stroke="#1e1e1e" stroke-width="0.95" transform="rotate(-4 752.32 576.9)"/>
<rect x="755.2" y="569.2" width="2.13" height="15.4" rx="1.07" ry="1.92" fill="#fff" stroke="#1e1e1e" stroke-width="0.95" transform="rotate(-4 756.27 576.9)"/>
<rect x="759.15" y="569.2" width="2.13" height="15.4" rx="1.07" ry="1.92" fill="#fff" stroke="#1e1e1e" stroke-width="0.95" transform="rotate(-4 760.22 576.9)"/>
<rect x="763.1" y="569.2" width="2.13" height="15.4" rx="1.07" ry="1.92" fill="#fff" stroke="#1e1e1e" stroke-width="0.95" transform="rotate(-4 764.17 576.9)"/>
<rect x="767.05" y="569.2" width="2.13" height="15.4" rx="1.07" ry="1.92" fill="#fff" stroke="#1e1e1e" stroke-width="0.95" transform="rotate(-4 768.11 576.9)"/>
<rect x="771" y="569.2" width="2.13" height="15.4" rx="1.07" ry="1.92" fill="#fff" stroke="#1e1e1e" stroke-width="0.95" transform="rotate(-4 772.06 576.9)"/>
<rect x="774.95" y="569.2" width="2.13" height="15.4" rx="1.07" ry="1.92" fill="#fff" stroke="#1e1e1e" stroke-width="0.95" transform="rotate(-4 776.01 576.9)"/>
<rect x="778.89" y="569.2" width="2.13" height="15.4" rx="1.07" ry="1.92" fill="#fff" stroke="#1e1e1e" stroke-width="0.95" transform="rotate(-4 779.96 576.9)"/>
<rect x="782.84" y="569.2" width="2.13" height="15.4" rx="1.07" ry="1.92" fill="#fff" stroke="#1e1e1e" stroke-width="0.95" transform="rotate(-4 783.91 576.9)"/>
<rect x="786.79" y="569.2" width="2.13" height="15.4" rx="1.07" ry="1.92" fill="#fff" stroke="#1e1e1e" stroke-width="0.95" transform="rotate(-4 787.86 576.9)"/>
<rect x="790.74" y="569.2" width="2.13" height="15.4" rx="1.07" ry="1.92" fill="#fff" stroke="#1e1e1e" stroke-width="0.95" transform="rotate(-4 791.8 576.9)"/>
<rect x="794.69" y="569.2" width="2.13" height="15.4" rx="1.07" ry="1.92" fill="#fff" stroke="#1e1e1e" stroke-width="0.95" transform="rotate(-4 795.75 576.9)"/>
<rect x="798.63" y="569.2" width="2.13" height="15.4" rx="1.07" ry="1.92" fill="#fff" stroke="#1e1e1e" stroke-width="0.95" transform="rotate(-4 799.7 576.9)"/>
<rect x="802.58" y="569.2" width="2.13" height="15.4" rx="1.07" ry="1.92" fill="#fff" stroke="#1e1e1e" stroke-width="0.95" transform="rotate(-4 803.65 576.9)"/>
<rect x="806.53" y="569.2" width="2.13" height="15.4" rx="1.07" ry="1.92" fill="#fff" stroke="#1e1e1e" stroke-width="0.95" transform="rotate(-4 807.6 576.9)"/>
<rect x="810.48" y="569.2" width="2.13" height="15.4" rx="1.07" ry="1.92" fill="#fff" stroke="#1e1e1e" stroke-width="0.95" transform="rotate(-4 811.54 576.9)"/>
<rect x="814.43" y="569.2" width="2.13" height="15.4" rx="1.07" ry="1.92" fill="#fff" stroke="#1e1e1e" stroke-width="0.95" transform="rotate(-4 815.49 576.9)"/>
<rect x="818.37" y="569.2" width="2.13" height="15.4" rx="1.07" ry="1.92" fill="#fff" stroke="#1e1e1e" stroke-width="0.95" transform="rotate(-4 819.44 576.9)"/>
<rect x="822.32" y="569.2" width="2.13" height="15.4" rx="1.07" ry="1.92" fill="#fff" stroke="#1e1e1e" stroke-width="0.95" transform="rotate(-4 823.39 576.9)"/>
<rect x="826.27" y="569.2" width="2.13" height="15.4" rx="1.07" ry="1.92" fill="#fff" stroke="#1e1e1e" stroke-width="0.95" transform="rotate(-4 827.34 576.9)"/>
<rect x="830.22" y="569.2" width="2.13" height="15.4" rx="1.07" ry="1.92" fill="#fff" stroke="#1e1e1e" stroke-width="0.95" transform="rotate(-4 831.29 576.9)"/>
<rect x="834.17" y="569.2" width="2.13" height="15.4" rx="1.07" ry="1.92" fill="#fff" stroke="#1e1e1e" stroke-width="0.95" transform="rotate(-4 835.23 576.9)"/>
<rect x="838.12" y="569.2" width="2.13" height="15.4" rx="1.07" ry="1.92" fill="#fff" stroke="#1e1e1e" stroke-width="0.95" transform="rotate(-4 839.18 576.9)"/>
<rect x="842.06" y="569.2" width="2.13" height="15.4" rx="1.07" ry="1.92" fill="#fff" stroke="#1e1e1e" stroke-width="0.95" transform="rotate(-4 843.13 576.9)"/>
<rect x="846.01" y="569.2" width="2.13" height="15.4" rx="1.07" ry="1.92" fill="#fff" stroke="#1e1e1e" stroke-width="0.95" transform="rotate(-4 847.08 576.9)"/>
<rect x="849.96" y="569.2" width="2.13" height="15.4" rx="1.07" ry="1.92" fill="#fff" stroke="#1e1e1e" stroke-width="0.95" transform="rotate(-4 851.03 576.9)"/>
<line x1="749.74" y1="576.9" x2="853" y2="576.9" stroke="#ebdf5c" stroke-width="1.2" stroke-dasharray="1.5 2.45" stroke-linecap="butt"/>
<text transform="translate(367.0 305.2) rotate(19) skewX(-12)" font-size="8.8" fill="#d9b02c" stroke="#d9b02c" stroke-width="0.25" letter-spacing="0.7">Left</text>
<text transform="translate(499.6 259.2) rotate(19) skewX(-12)" font-size="8.8" fill="#d9b02c" stroke="#d9b02c" stroke-width="0.25" letter-spacing="0.5">Right</text>
<path d="M628.6 489.4 C626.8 492.6 626.8 498.6 628.6 501.8 L632.7 498.8 L632.7 492.4 Z" stroke="#1a1a1a" stroke-width="1" fill="#fff"/>
<rect x="632.7" y="492.4" width="17.3" height="6.4" rx="1.2" fill="#161616" stroke="#111" stroke-width="0.6"/>
<line x1="635.4" y1="495.4" x2="636.7" y2="495.4" stroke="#666" stroke-width="0.7"/>
<line x1="638.4" y1="495.4" x2="639.7" y2="495.4" stroke="#666" stroke-width="0.7"/>
<line x1="641.4" y1="495.4" x2="642.7" y2="495.4" stroke="#666" stroke-width="0.7"/>
<line x1="644.4" y1="495.4" x2="645.7" y2="495.4" stroke="#666" stroke-width="0.7"/>
<line x1="647.4" y1="495.4" x2="648.7" y2="495.4" stroke="#666" stroke-width="0.7"/>
<path d="M627.8 570.3 C626 573.5 626 579.5 627.8 582.7 L631.9 579.7 L631.9 573.3 Z" stroke="#1a1a1a" stroke-width="1" fill="#fff"/>
<rect x="631.9" y="573.3" width="17.3" height="6.4" rx="1.2" fill="#161616" stroke="#111" stroke-width="0.6"/>
<line x1="634.6" y1="576.3" x2="635.9" y2="576.3" stroke="#666" stroke-width="0.7"/>
<line x1="637.6" y1="576.3" x2="638.9" y2="576.3" stroke="#666" stroke-width="0.7"/>
<line x1="640.6" y1="576.3" x2="641.9" y2="576.3" stroke="#666" stroke-width="0.7"/>
<line x1="643.6" y1="576.3" x2="644.9" y2="576.3" stroke="#666" stroke-width="0.7"/>
<line x1="646.6" y1="576.3" x2="647.9" y2="576.3" stroke="#666" stroke-width="0.7"/>
<rect x="660.4" y="487.5" width="5.6" height="16.2" rx="2.6" ry="3.5" fill="#fff" stroke="#1a1a1a" stroke-width="1"/>
<rect x="664.6" y="490.7" width="6.4" height="9.8" rx="1.6" ry="2" fill="#fff" stroke="#1a1a1a" stroke-width="1"/>
<path d="M664.8 491.1 Q663.6 495.6 664.8 500.1" stroke="#1a1a1a" stroke-width="0.8" fill="none"/>
<rect x="657" y="568.4" width="5.6" height="16.2" rx="2.6" ry="3.5" fill="#fff" stroke="#1a1a1a" stroke-width="1"/>
<rect x="661.2" y="571.6" width="6.4" height="9.8" rx="1.6" ry="2" fill="#fff" stroke="#1a1a1a" stroke-width="1"/>
<path d="M661.4 572 Q660.2 576.5 661.4 581" stroke="#1a1a1a" stroke-width="0.8" fill="none"/>
<ellipse cx="703.7" cy="495.6" rx="3.3" ry="9.2" stroke="#1a1a1a" stroke-width="1" fill="#fff"/>
<ellipse cx="704.4" cy="495.6" rx="2.2" ry="8" stroke="#333" stroke-width="0.8" fill="none"/>
<ellipse cx="704.6" cy="495.6" rx="1.1" ry="3.4" stroke="#111" stroke-width="0.8" fill="#222"/>
<ellipse cx="703.6" cy="576.5" rx="3.3" ry="9.2" stroke="#1a1a1a" stroke-width="1" fill="#fff"/>
<ellipse cx="704.3" cy="576.5" rx="2.2" ry="8" stroke="#333" stroke-width="0.8" fill="none"/>
<ellipse cx="704.5" cy="576.5" rx="1.1" ry="3.4" stroke="#111" stroke-width="0.8" fill="#222"/>
<path d="M679.2 562.3 L684 561.6 L688.6 563.2 Q689.6 572 689.2 581 Q686 585 681.6 585.2 L679.6 584 Q678 573 679.2 562.3 Z" stroke="#1a1a1a" stroke-width="1" fill="#fff"/>
<path d="M684 561.8 Q682.4 573 684.2 584.6" stroke="#1a1a1a" stroke-width="0.9" fill="none"/>
<path d="M688.2 564 L685.3 566.5 Q684.6 574 685.6 581.6 L688.6 580.6" stroke="#1a1a1a" stroke-width="0.8" fill="none"/>
<ellipse cx="686.3" cy="576.4" rx="1.1" ry="3.2" stroke="#1a1a1a" stroke-width="0.6" fill="#222"/>
<rect x="717.7" y="561.1" width="3.6" height="8.6" rx="1.6" fill="#fff" stroke="#1a1a1a" stroke-width="1"/>
<line x1="718.3" y1="565.3" x2="720.8" y2="565.3" stroke="#1a1a1a" stroke-width="0.8"/>
<rect x="888.8" y="489.9" width="102" height="11.4" rx="1.5" fill="#fff" stroke="#1a1a1a" stroke-width="1"/>
<rect x="990" y="486.9" width="81.4" height="17.4" rx="2.4" fill="#fff" stroke="#1a1a1a" stroke-width="1"/>
<ellipse cx="1069" cy="495.6" rx="2.3" ry="7.6" stroke="#1a1a1a" stroke-width="0.9" fill="none"/>
<path d="M990.3 493.6 L995 493.6 L995 501.1 L990.3 501.1" stroke="#1a1a1a" stroke-width="0.9" fill="none"/>
<rect x="888.8" y="571.2" width="102" height="11.4" rx="1.5" fill="#fff" stroke="#1a1a1a" stroke-width="1"/>
<rect x="990" y="568.2" width="81.4" height="17.4" rx="2.4" fill="#fff" stroke="#1a1a1a" stroke-width="1"/>
<ellipse cx="1069" cy="576.9" rx="2.3" ry="7.6" stroke="#1a1a1a" stroke-width="0.9" fill="none"/>
<path d="M990.3 574.9 L995 574.9 L995 582.4 L990.3 582.4" stroke="#1a1a1a" stroke-width="0.9" fill="none"/>
<rect x="736.5" y="507.8" width="120" height="56.2" rx="4" fill="#fff" stroke="#1a1a1a" stroke-width="1"/>
<path d="M730.5 508.6 Q724.5 509.5 722.8 524 L717.6 525.2 Q714.6 526.2 714.6 534 Q714.6 544 717.8 545.6 L722.2 546.6 Q724.4 560.6 729.6 563.6" stroke="#1a1a1a" stroke-width="1" fill="#fff"/>
<path d="M722.8 524 Q721.2 535 722.2 546.6" stroke="#1a1a1a" stroke-width="0.9" fill="none"/>
<path d="M728.2 509.2 Q723.2 535 728 563" stroke="#1a1a1a" stroke-width="0.9" fill="none"/>
<ellipse cx="723.8" cy="532.2" rx="1.5" ry="1.5" stroke="#1a1a1a" stroke-width="0.8" fill="#fff"/>
<path d="M735.6 486.6 Q737.6 485.2 741.6 485.6 Q743.6 486.8 743.2 491 L742.8 503 Q741 506.5 739.6 508 Q737.6 535 739.2 563 Q742 566 743 571 L743.6 583 Q743 587 740 587.4 L735.2 586.6 Q733.2 585.4 732.6 581 Q729.6 535 733.4 492 Q733.8 488 735.6 486.6 Z" stroke="#1a1a1a" stroke-width="1" fill="#fff"/>
<path d="M738.2 486 Q733.6 535 737.4 587" stroke="#1a1a1a" stroke-width="0.9" fill="none"/>
<ellipse cx="741" cy="495.6" rx="1.3" ry="4.2" stroke="#1a1a1a" stroke-width="0.9" fill="#fff"/>
<ellipse cx="740.6" cy="576.6" rx="1.3" ry="4.2" stroke="#1a1a1a" stroke-width="0.9" fill="#fff"/>
<path d="M741.6 508 Q738.4 536 741.2 564" stroke="#1a1a1a" stroke-width="0.9" fill="none"/>
<path d="M857.6 482.4 Q859.6 481 865.6 481.6 Q868 483.2 868.6 488 L870.6 505 Q866 507 864 510 L853.6 517.6 L853.4 506 Q854.6 492 857.6 482.4 Z" stroke="#1a1a1a" stroke-width="1" fill="#fff"/>
<ellipse cx="864.2" cy="494.6" rx="1.7" ry="5.6" stroke="#1a1a1a" stroke-width="0.9" fill="#fff"/>
<path d="M860.8 482 Q856.6 495 856.2 516" stroke="#1a1a1a" stroke-width="0.9" fill="none"/>
<path d="M853.6 545 L859.6 547.8 L859.6 560 Q856.6 575 858.8 588.6 Q860.6 591.4 864 591 L868.4 589.6 Q869.6 587 869.4 581 L867.2 565 L853.6 563 Z" stroke="#1a1a1a" stroke-width="1" fill="#fff"/>
<ellipse cx="864.4" cy="577.6" rx="1.7" ry="5.6" stroke="#1a1a1a" stroke-width="0.9" fill="#fff"/>
<path d="M861.6 590.6 Q857.8 576 859.2 561" stroke="#1a1a1a" stroke-width="0.9" fill="none"/>
<rect x="597.5" y="450" width="494" height="179" rx="17" ry="17" fill="none" stroke="#333" stroke-width="1.3"/>
<path d="M814.6 527.4 L760.6 527.4 Q756 528 756 531.6 Q756.4 535.6 760.4 535.6 Q762.6 535.2 763.2 533.4 L814.6 533.4" stroke="#1a1a1a" stroke-width="1" fill="#fff"/>
<rect x="819" y="516.4" width="31.6" height="28" rx="2.6" fill="#fff" stroke="#1a1a1a" stroke-width="1"/>
<line x1="821" y1="544.2" x2="849" y2="544.2" stroke="#1a1a1a" stroke-width="2"/>
<line x1="829" y1="544.6" x2="841" y2="544.6" stroke="#999" stroke-width="1.6"/>
<rect x="814.6" y="522.8" width="44.4" height="15.4" rx="1.6" fill="#fff" stroke="#1a1a1a" stroke-width="1"/>
<line x1="816.4" y1="524.2" x2="816.4" y2="537" stroke="#1a1a1a" stroke-width="0.8"/>
<rect x="858.2" y="525.4" width="5.6" height="10.8" rx="1.6" fill="#fff" stroke="#1a1a1a" stroke-width="1"/>
<line x1="858.4" y1="530.6" x2="863.6" y2="530.6" stroke="#1a1a1a" stroke-width="0.8"/>
<path d="M866.6 508.6 Q862.4 510 860.6 520 L860.6 550 Q862.6 562.6 867 564.4 L873 564.6 L873 508.4 Z" stroke="#1a1a1a" stroke-width="1" fill="#fff"/>
<path d="M868.6 508.4 Q862.8 536 868.8 564.4" stroke="#1a1a1a" stroke-width="0.9" fill="none"/>
<ellipse cx="873.2" cy="536.4" rx="6.8" ry="28.1" stroke="#1a1a1a" stroke-width="1" fill="#fff"/>
<path d="M749 562.6 L749 566 L745.6 569.2 L744 574.6" stroke="#1a1a1a" stroke-width="1" fill="none"/>
<path d="M749.6 561.6 Q752.2 558.4 756 558.6 L758.4 559 L771 559.6 L781.6 560.2 Q790 560.6 793.4 558.2 Q795.6 559.6 793.6 562.4 Q789 566.6 781 565.4 L771.4 565.8 L758.6 566.6 L752 566.4 Z" stroke="#1a1a1a" stroke-width="1" fill="#fff"/>
<line x1="754.2" y1="559" x2="754.2" y2="566.4" stroke="#1a1a1a" stroke-width="0.9"/>
<line x1="758.6" y1="559.2" x2="758.6" y2="566.6" stroke="#1a1a1a" stroke-width="1.3"/>
<line x1="763.6" y1="559.6" x2="763.6" y2="566" stroke="#1a1a1a" stroke-width="0.9"/>
<line x1="771.2" y1="559.8" x2="771.2" y2="569.6" stroke="#1a1a1a" stroke-width="1.2"/>
<path d="M771.4 562.6 Q783 563.6 792.6 559.4" stroke="#1a1a1a" stroke-width="0.8" fill="none"/>
<path d="M235 534.2 Q232.4 534.4 232.4 537 L232.4 560 Q232.6 564 236.4 565.6 L267 575.4 Q269.6 576.4 272 574.2 L270.2 573.6 Q268.2 573 268.2 570.6 L268.2 547 Q268.2 543.6 265 542.6 L237 534.4 Z" stroke="#2c2c2c" stroke-width="1.15" fill="#fff"/>
<path d="M237.6 534.6 L266.6 543 Q269.8 544 269.8 547.4 L269.8 571 Q270 573.6 272 574.2 L275 574.2" stroke="#2c2c2c" stroke-width="1.15" fill="none"/>
<ellipse cx="236.8" cy="538.8" rx="1.5" ry="1.7" stroke="#2c2c2c" stroke-width="1" fill="none"/>
<ellipse cx="236.8" cy="558.6" rx="1.5" ry="1.7" stroke="#2c2c2c" stroke-width="1" fill="none"/>
<path d="M270 554.4 L353.8 528.2 Q360 526 360.2 520.6 L360.2 497 Q360.2 493.8 363 493.8 L364 494 L393.6 502 Q396.6 503 396.6 506.4 L396.2 529 Q396 534.6 392 537.4" stroke="#2c2c2c" stroke-width="1.15" fill="none"/>
<path d="M365 494.2 L394.6 502.4 Q398 503.6 398 507 L397.6 530 Q397.4 535 394 537.6 L391.4 538.2" stroke="#2c2c2c" stroke-width="1.15" fill="none"/>
<ellipse cx="364.6" cy="498.8" rx="1.4" ry="1.6" stroke="#2c2c2c" stroke-width="0.9" fill="none"/>
<ellipse cx="364.6" cy="518.8" rx="1.4" ry="1.6" stroke="#2c2c2c" stroke-width="0.9" fill="none"/>
<path d="M397.4 535.6 L455 553.6 Q456.8 555.4 452.4 556.2" stroke="#2c2c2c" stroke-width="1.15" fill="none"/>
<path d="M459.4 545.4 Q460 542.4 463 542.6 L469 543.6 Q472.6 544.6 472.8 548 L472.8 555 Q472 559.4 466.6 561.4" stroke="#2c2c2c" stroke-width="1.15" fill="none"/>
<path d="M459.4 545.6 L459.4 552 Q459 556 455.6 556.4" stroke="#2c2c2c" stroke-width="1.15" fill="none"/>
<path d="M470.6 544.4 Q474.2 545.6 474.2 549 L474.2 556.6 Q473.6 560.6 469 562.6" stroke="#2c2c2c" stroke-width="1.15" fill="none"/>
<ellipse cx="463.8" cy="548.4" rx="1.4" ry="1.6" stroke="#2c2c2c" stroke-width="0.9" fill="none"/>
<path d="M466.91 562.91L472.63 564.56L472.33 565.17L355.5 602.2Q352.49 602.81 349.48 601.6L342.25 598.59" stroke="#2c2c2c" stroke-width="1.15" fill="none"/>
<path d="M472.63 564.56L472.63 566.67L355.5 604.31Q351.89 604.91 347.97 603.41L340.45 599.8" stroke="#2c2c2c" stroke-width="1.15" fill="none"/>
<path d="M269.68 578.12L325.39 596.18Q327.8 596.78 329.91 597.69" stroke="#2c2c2c" stroke-width="1.15" fill="none"/>
<path d="M269.08 576.01Q268.78 579.32 270.59 580.52L323.88 598.29Q327.8 599.19 330.81 597.99" stroke="#2c2c2c" stroke-width="1.15" fill="none"/>
<path d="M326.9 586.85Q327.2 584.14 329.91 584.14L336.83 585.34Q341.65 586.25 341.95 590.76L341.95 598.29Q342.25 599.49 344.96 599.19" stroke="#2c2c2c" stroke-width="1.15" fill="none"/>
<path d="M326.9 586.85L326.9 595.28Q327.2 597.39 329.91 597.69M339.84 586.25Q343.76 587.75 343.76 591.67L343.76 598.29Q344.36 599.8 347.37 600.4" stroke="#2c2c2c" stroke-width="1.03" fill="none"/>
<ellipse cx="332.17" cy="590.01" rx="1.3" ry="1.5" stroke="#2c2c2c" stroke-width="0.9" fill="none"/>
<path d="M323.2 8 L323.4 11 Q324.2 13.6 330.4 13.6 Q336.6 13.4 337.2 10.6 L337.4 7.6" stroke="#1a1a1a" stroke-width="1" fill="#fff"/>
<ellipse cx="330.3" cy="7.4" rx="7.2" ry="3.4" stroke="#1a1a1a" stroke-width="1" fill="#fff"/>
<path d="M324.4 9.6 Q330 12 336.4 9.4" stroke="#888" stroke-width="0.7" fill="none"/>
<path d="M330.6 37.2 Q331.8 35.6 333.0 36.8 Q333.6 38 332.6 40.2 L331.0 44.4 L332.2 45.4 L332.4 54.6 L331.2 55.6 L329.4 56.4 L329.6 65 L327.8 66 L327.8 73.6 Q326 75.4 323.8 73.8 L323.6 66 L322.6 64.6 L323.4 57 L325.2 55.6 Q325.4 46 330.6 37.2 Z" stroke="#1a1a1a" stroke-width="1" fill="#fff"/>
<path d="M332.0 38 Q327.4 46 327.4 56" stroke="#1a1a1a" stroke-width="0.8" fill="none"/>
<path d="M329.4 46.4 L331.8 46 M329.2 51.6 L332.2 51.4" stroke="#1a1a1a" stroke-width="0.8" fill="none"/>
<line x1="323.6" y1="57.4" x2="329.6" y2="57.2" stroke="#1a1a1a" stroke-width="1.6"/>
<line x1="322.8" y1="64.8" x2="329.6" y2="64.4" stroke="#1a1a1a" stroke-width="1.6"/>
<path d="M323.8 66.2 L327.8 66" stroke="#1a1a1a" stroke-width="0.8" fill="none"/>
<ellipse cx="324.2" cy="89.4" rx="5.6" ry="3.5" stroke="#1a1a1a" stroke-width="1.2" fill="#fff" transform="rotate(8 324.2 89.4)"/>
<ellipse cx="324" cy="88.6" rx="3.4" ry="1.7" stroke="#1a1a1a" stroke-width="1" fill="#fff" transform="rotate(8 324 88.6)"/>
<path d="M319 90.6 Q324 94.6 329.6 91" stroke="#1a1a1a" stroke-width="0.9" fill="none"/>
<path d="M321 104.6 L321 108.2 Q323.2 109.8 325.8 108.2 L325.8 104.4" stroke="#1a1a1a" stroke-width="1" fill="#fff"/>
<ellipse cx="323.4" cy="104.4" rx="2.4" ry="1.3" stroke="#1a1a1a" stroke-width="1" fill="#fff"/>
<path d="M434 146 L436.4 146.6 L436.8 149.2 L434.6 149.6 Z" stroke="#1a1a1a" stroke-width="1" fill="#fff"/>
<path d="M78.8 281.0 L81.0 280.0 L234.4 327.4 L230.6 329.0 L79.2 283.2 Z" stroke="#3a3a3a" stroke-width="0.85" fill="#c4c4c4"/>
<line x1="80" y1="281.9" x2="232" y2="328.4" stroke="#777" stroke-width="0.7"/>
<rect x="80.4" y="261.8" width="2.8" height="3.4" rx="1" fill="#fff" stroke="#1a1a1a" stroke-width="0.9"/>
<rect x="81" y="265.2" width="1.6" height="3.6" fill="#fff" stroke="#1a1a1a" stroke-width="0.7"/>
<line x1="824.4" y1="545.4" x2="824.4" y2="657" stroke="#ebdf5c" stroke-width="1.3"/>
<line x1="844.2" y1="545.4" x2="844.2" y2="657" stroke="#ebdf5c" stroke-width="1.3"/>
<path d="M10.84 317.75L28 325.28Q29.51 326.78 28.61 328.89L26.5 329.49L9.33 324.07Z" stroke="#1a1a1a" stroke-width="1.12" fill="#fff"/>
<path d="M5.12 316.85Q3.31 320.46 5.42 324.38L7.83 324.68L9.94 323.77Q11.74 320.76 10.84 317.75L8.73 316.25Q6.62 315.64 5.12 316.85Z" stroke="#1a1a1a" stroke-width="1.12" fill="#fff"/>
<path d="M8.73 316.25Q11.14 320.16 8.13 324.68M26.8 325.28Q25.29 327.39 26.5 329.49" stroke="#1a1a1a" stroke-width="0.9" fill="none"/>
<path d="M18.46 315.32L23.73 312.68L30.32 310.31L43.5 309.78L77.77 299.24L78.04 296.34L84.37 293.17L92.28 292.65L104.14 296.34L106.78 298.97L116 302.93L116 308.2L101.5 312.95" stroke="#1a1a1a" stroke-width="1.12" fill="none"/>
<path d="M23.73 312.68L54.05 322.17L61.96 319.54L61.96 324.02L54.05 327.18L52.07 330.61L18.46 322.17L18.46 315.32M54.05 322.17L54.05 327.18" stroke="#1a1a1a" stroke-width="1.12" fill="none"/>
<path d="M52.73 315.58Q54.05 313.21 58 312.68L67.23 311.36L68.02 308.73L76.46 306.88L79.09 310.05L81.73 306.88Q87 303.46 92.28 302.93L112.05 306.09M67.23 311.36L68.55 316.64L61.96 319.54M52.73 315.58Q55.37 317.96 61.96 319.54" stroke="#1a1a1a" stroke-width="0.95" fill="none"/>
<path d="M68.55 314.79Q77.77 311.36 87.27 314.79Q85.68 317.96 77.77 318.75Q71.18 317.96 68.55 314.79ZM69.6 316.37Q77.77 319.54 86.48 316.64" stroke="#1a1a1a" stroke-width="0.95" fill="#fff"/>
<path d="M56.68 325.86L69.07 350.38M68.55 323.49L79.09 344.32M89.64 346.43L97.55 344.32L98.34 335.09Q96.23 324.55 88.06 317.96" stroke="#1a1a1a" stroke-width="1.12" fill="none"/>
<path d="M89.64 311.36L102.82 312.95L116 308.2M102.82 312.95L114.68 336.67M116.53 308.73L128.66 334.56M92.28 313.47L103.35 334.56M88.06 311.89L92.28 313.47" stroke="#1a1a1a" stroke-width="1.12" fill="none"/>
<path d="M66.36 352.73L69.55 352.27L69.55 362.27L66.36 362.73ZM69.55 352.27L80.91 349.18M69.55 352.27L89.55 356.45L95.91 353.18L95.91 361.36L89.55 365L69.55 362.27M89.55 356.45L89.55 365" stroke="#1a1a1a" stroke-width="1.12" fill="none"/>
<path d="M95.91 352.27L108.18 350.09L109.09 358.64L97.27 361M80.91 349.18L104.55 343.18L107.82 341.91M108.18 350.09L116.82 347.73L116.82 356.45L109.09 358.64" stroke="#1a1a1a" stroke-width="1.12" fill="none"/>
<path d="M116.82 347.73L119.09 346.45L121.82 343.55L129.64 344.64L136.36 341.36L125.45 336.82M136.36 341.36L136.36 349.55L129.64 352.27L129.64 344.64M118.18 347.73L118.18 355.91L121.82 355L122.73 358.64" stroke="#1a1a1a" stroke-width="1.12" fill="none"/>
<path d="M80.91 345.55L90 346.82L98.18 344.09L97.45 328.64M104.55 337.36L108.18 336.45L115.45 338.64L125.45 335.91L128.73 333.73L122.73 325M104.91 337.73L105.45 342.27L107.45 341.55M115.45 338.64L109.09 325" stroke="#1a1a1a" stroke-width="0.95" fill="none"/>
<path d="M77.27 363.18Q77.27 369.55 80 374.09Q83.64 377.73 88.18 377.18Q91.82 375 93.64 369.55L108.18 364.09L110.18 363.73Q112.73 367.36 117.27 367.36Q121.82 365 122.73 358.64L125.45 354.09" stroke="#1a1a1a" stroke-width="0.95" fill="none"/>
<path d="M80.91 364.09Q80.91 370.45 86.36 375.91M110.73 364.09L112.73 365.55" stroke="#1a1a1a" stroke-width="0.9" fill="none"/>
<path d="M27.85 327.53Q43.66 332.04 50.44 341.08Q53.6 350.11 52.09 359.45L48.48 357.64L34.03 363.06Q35.53 372.69 45.17 379.02Q55.71 382.03 63.23 378.72L69.56 376.01L69.56 365.17" stroke="#1a1a1a" stroke-width="1.12" fill="none"/>
<path d="M36.13 363.66L40.35 365.47L52.09 360.95M40.35 365.47L37.64 369.68" stroke="#1a1a1a" stroke-width="0.95" fill="none"/>
<path d="M130.34 362.48 L202.24 384.59 L200.56 390.03 L128.66 367.92 Z" stroke="#1a1a1a" stroke-width="1" fill="#fff"/>
<ellipse cx="201.4" cy="387.31" rx="1.8" ry="2.8" stroke="#1a1a1a" stroke-width="1" fill="#fff" transform="rotate(17.09 201.4 387.31)"/>
<ellipse cx="129.5" cy="365.2" rx="1.4" ry="2.7" stroke="#1a1a1a" stroke-width="1" fill="#fff" transform="rotate(17.09 129.5 365.2)"/>
<ellipse cx="141.68" cy="368.11" rx="1" ry="0.9" stroke="#1a1a1a" stroke-width="0.8" fill="#fff"/>
<path d="M100.24 371.78 L172.54 394.01 L170.86 399.46 L98.56 377.22 Z" stroke="#1a1a1a" stroke-width="1" fill="#fff"/>
<ellipse cx="171.7" cy="396.73" rx="1.8" ry="2.8" stroke="#1a1a1a" stroke-width="1" fill="#fff" transform="rotate(17.09 171.7 396.73)"/>
<ellipse cx="99.4" cy="374.5" rx="1.4" ry="2.7" stroke="#1a1a1a" stroke-width="1" fill="#fff" transform="rotate(17.09 99.4 374.5)"/>
<ellipse cx="111.58" cy="377.41" rx="1" ry="0.9" stroke="#1a1a1a" stroke-width="0.8" fill="#fff"/>
<path d="M209.46 386.19 L274.96 406.33 L272.44 414.55 L206.94 394.41 Z" fill="#2a2a2a" stroke="#141414" stroke-width="1.3" stroke-linejoin="round"/>
<line x1="211.34" y1="387.92" x2="208.88" y2="393.86" stroke="#6a6a6a" stroke-width="0.5"/>
<line x1="213.25" y1="388.51" x2="210.8" y2="394.45" stroke="#6a6a6a" stroke-width="0.5"/>
<line x1="215.16" y1="389.09" x2="212.71" y2="395.03" stroke="#6a6a6a" stroke-width="0.5"/>
<line x1="217.07" y1="389.68" x2="214.62" y2="395.62" stroke="#6a6a6a" stroke-width="0.5"/>
<line x1="218.99" y1="390.27" x2="216.53" y2="396.21" stroke="#6a6a6a" stroke-width="0.5"/>
<line x1="220.9" y1="390.86" x2="218.44" y2="396.8" stroke="#6a6a6a" stroke-width="0.5"/>
<line x1="222.81" y1="391.44" x2="220.35" y2="397.39" stroke="#6a6a6a" stroke-width="0.5"/>
<line x1="224.72" y1="392.03" x2="222.27" y2="397.97" stroke="#6a6a6a" stroke-width="0.5"/>
<line x1="226.63" y1="392.62" x2="224.18" y2="398.56" stroke="#6a6a6a" stroke-width="0.5"/>
<line x1="228.54" y1="393.21" x2="226.09" y2="399.15" stroke="#6a6a6a" stroke-width="0.5"/>
<line x1="230.46" y1="393.8" x2="228" y2="399.74" stroke="#6a6a6a" stroke-width="0.5"/>
<line x1="232.37" y1="394.38" x2="229.91" y2="400.32" stroke="#6a6a6a" stroke-width="0.5"/>
<line x1="234.28" y1="394.97" x2="231.82" y2="400.91" stroke="#6a6a6a" stroke-width="0.5"/>
<line x1="236.19" y1="395.56" x2="233.74" y2="401.5" stroke="#6a6a6a" stroke-width="0.5"/>
<line x1="238.1" y1="396.15" x2="235.65" y2="402.09" stroke="#6a6a6a" stroke-width="0.5"/>
<line x1="240.01" y1="396.73" x2="237.56" y2="402.68" stroke="#6a6a6a" stroke-width="0.5"/>
<line x1="241.93" y1="397.32" x2="239.47" y2="403.26" stroke="#6a6a6a" stroke-width="0.5"/>
<line x1="243.84" y1="397.91" x2="241.38" y2="403.85" stroke="#6a6a6a" stroke-width="0.5"/>
<line x1="245.75" y1="398.5" x2="243.29" y2="404.44" stroke="#6a6a6a" stroke-width="0.5"/>
<line x1="247.66" y1="399.09" x2="245.21" y2="405.03" stroke="#6a6a6a" stroke-width="0.5"/>
<line x1="249.57" y1="399.67" x2="247.12" y2="405.62" stroke="#6a6a6a" stroke-width="0.5"/>
<line x1="251.48" y1="400.26" x2="249.03" y2="406.2" stroke="#6a6a6a" stroke-width="0.5"/>
<line x1="253.4" y1="400.85" x2="250.94" y2="406.79" stroke="#6a6a6a" stroke-width="0.5"/>
<line x1="255.31" y1="401.44" x2="252.85" y2="407.38" stroke="#6a6a6a" stroke-width="0.5"/>
<line x1="257.22" y1="402.03" x2="254.76" y2="407.97" stroke="#6a6a6a" stroke-width="0.5"/>
<line x1="259.13" y1="402.61" x2="256.68" y2="408.55" stroke="#6a6a6a" stroke-width="0.5"/>
<line x1="261.04" y1="403.2" x2="258.59" y2="409.14" stroke="#6a6a6a" stroke-width="0.5"/>
<line x1="262.95" y1="403.79" x2="260.5" y2="409.73" stroke="#6a6a6a" stroke-width="0.5"/>
<line x1="264.87" y1="404.38" x2="262.41" y2="410.32" stroke="#6a6a6a" stroke-width="0.5"/>
<line x1="266.78" y1="404.96" x2="264.32" y2="410.91" stroke="#6a6a6a" stroke-width="0.5"/>
<line x1="268.69" y1="405.55" x2="266.23" y2="411.49" stroke="#6a6a6a" stroke-width="0.5"/>
<line x1="270.6" y1="406.14" x2="268.15" y2="412.08" stroke="#6a6a6a" stroke-width="0.5"/>
<line x1="272.51" y1="406.73" x2="270.06" y2="412.67" stroke="#6a6a6a" stroke-width="0.5"/>
<ellipse cx="208.2" cy="390.3" rx="2" ry="4.6" stroke="#1c1c1c" stroke-width="1" fill="#1c1c1c" transform="rotate(17.09 208.2 390.3)"/>
<ellipse cx="273.7" cy="410.44" rx="3" ry="4.7" stroke="#1c1c1c" stroke-width="1.4" fill="#fff" transform="rotate(17.09 273.7 410.44)"/>
<ellipse cx="273.7" cy="410.44" rx="1.3" ry="2.3" stroke="#1c1c1c" stroke-width="1.3" fill="#bbb" transform="rotate(17.09 273.7 410.44)"/>
<path d="M180.06 395.59 L244.86 415.52 L242.34 423.74 L177.54 403.81 Z" fill="#2a2a2a" stroke="#141414" stroke-width="1.3" stroke-linejoin="round"/>
<line x1="181.94" y1="397.32" x2="179.48" y2="403.26" stroke="#6a6a6a" stroke-width="0.5"/>
<line x1="183.85" y1="397.91" x2="181.4" y2="403.85" stroke="#6a6a6a" stroke-width="0.5"/>
<line x1="185.76" y1="398.49" x2="183.31" y2="404.43" stroke="#6a6a6a" stroke-width="0.5"/>
<line x1="187.67" y1="399.08" x2="185.22" y2="405.02" stroke="#6a6a6a" stroke-width="0.5"/>
<line x1="189.59" y1="399.67" x2="187.13" y2="405.61" stroke="#6a6a6a" stroke-width="0.5"/>
<line x1="191.5" y1="400.26" x2="189.04" y2="406.2" stroke="#6a6a6a" stroke-width="0.5"/>
<line x1="193.41" y1="400.84" x2="190.95" y2="406.79" stroke="#6a6a6a" stroke-width="0.5"/>
<line x1="195.32" y1="401.43" x2="192.87" y2="407.37" stroke="#6a6a6a" stroke-width="0.5"/>
<line x1="197.23" y1="402.02" x2="194.78" y2="407.96" stroke="#6a6a6a" stroke-width="0.5"/>
<line x1="199.14" y1="402.61" x2="196.69" y2="408.55" stroke="#6a6a6a" stroke-width="0.5"/>
<line x1="201.06" y1="403.2" x2="198.6" y2="409.14" stroke="#6a6a6a" stroke-width="0.5"/>
<line x1="202.97" y1="403.78" x2="200.51" y2="409.72" stroke="#6a6a6a" stroke-width="0.5"/>
<line x1="204.88" y1="404.37" x2="202.42" y2="410.31" stroke="#6a6a6a" stroke-width="0.5"/>
<line x1="206.79" y1="404.96" x2="204.34" y2="410.9" stroke="#6a6a6a" stroke-width="0.5"/>
<line x1="208.7" y1="405.55" x2="206.25" y2="411.49" stroke="#6a6a6a" stroke-width="0.5"/>
<line x1="210.61" y1="406.13" x2="208.16" y2="412.08" stroke="#6a6a6a" stroke-width="0.5"/>
<line x1="212.53" y1="406.72" x2="210.07" y2="412.66" stroke="#6a6a6a" stroke-width="0.5"/>
<line x1="214.44" y1="407.31" x2="211.98" y2="413.25" stroke="#6a6a6a" stroke-width="0.5"/>
<line x1="216.35" y1="407.9" x2="213.89" y2="413.84" stroke="#6a6a6a" stroke-width="0.5"/>
<line x1="218.26" y1="408.49" x2="215.81" y2="414.43" stroke="#6a6a6a" stroke-width="0.5"/>
<line x1="220.17" y1="409.07" x2="217.72" y2="415.02" stroke="#6a6a6a" stroke-width="0.5"/>
<line x1="222.08" y1="409.66" x2="219.63" y2="415.6" stroke="#6a6a6a" stroke-width="0.5"/>
<line x1="224" y1="410.25" x2="221.54" y2="416.19" stroke="#6a6a6a" stroke-width="0.5"/>
<line x1="225.91" y1="410.84" x2="223.45" y2="416.78" stroke="#6a6a6a" stroke-width="0.5"/>
<line x1="227.82" y1="411.43" x2="225.36" y2="417.37" stroke="#6a6a6a" stroke-width="0.5"/>
<line x1="229.73" y1="412.01" x2="227.28" y2="417.95" stroke="#6a6a6a" stroke-width="0.5"/>
<line x1="231.64" y1="412.6" x2="229.19" y2="418.54" stroke="#6a6a6a" stroke-width="0.5"/>
<line x1="233.55" y1="413.19" x2="231.1" y2="419.13" stroke="#6a6a6a" stroke-width="0.5"/>
<line x1="235.47" y1="413.78" x2="233.01" y2="419.72" stroke="#6a6a6a" stroke-width="0.5"/>
<line x1="237.38" y1="414.36" x2="234.92" y2="420.31" stroke="#6a6a6a" stroke-width="0.5"/>
<line x1="239.29" y1="414.95" x2="236.83" y2="420.89" stroke="#6a6a6a" stroke-width="0.5"/>
<line x1="241.2" y1="415.54" x2="238.75" y2="421.48" stroke="#6a6a6a" stroke-width="0.5"/>
<ellipse cx="178.8" cy="399.7" rx="2" ry="4.6" stroke="#1c1c1c" stroke-width="1" fill="#1c1c1c" transform="rotate(17.09 178.8 399.7)"/>
<ellipse cx="243.6" cy="419.63" rx="3" ry="4.7" stroke="#1c1c1c" stroke-width="1.4" fill="#fff" transform="rotate(17.09 243.6 419.63)"/>
<ellipse cx="243.6" cy="419.63" rx="1.3" ry="2.3" stroke="#1c1c1c" stroke-width="1.3" fill="#bbb" transform="rotate(17.09 243.6 419.63)"/>
<path d="M281.66 408.79 L332.26 424.35 L329.74 432.57 L279.14 417.01 Z" fill="#2a2a2a" stroke="#141414" stroke-width="1.3" stroke-linejoin="round"/>
<line x1="283.54" y1="410.52" x2="281.08" y2="416.46" stroke="#6a6a6a" stroke-width="0.5"/>
<line x1="285.45" y1="411.11" x2="283" y2="417.05" stroke="#6a6a6a" stroke-width="0.5"/>
<line x1="287.36" y1="411.69" x2="284.91" y2="417.63" stroke="#6a6a6a" stroke-width="0.5"/>
<line x1="289.27" y1="412.28" x2="286.82" y2="418.22" stroke="#6a6a6a" stroke-width="0.5"/>
<line x1="291.19" y1="412.87" x2="288.73" y2="418.81" stroke="#6a6a6a" stroke-width="0.5"/>
<line x1="293.1" y1="413.46" x2="290.64" y2="419.4" stroke="#6a6a6a" stroke-width="0.5"/>
<line x1="295.01" y1="414.04" x2="292.55" y2="419.99" stroke="#6a6a6a" stroke-width="0.5"/>
<line x1="296.92" y1="414.63" x2="294.47" y2="420.57" stroke="#6a6a6a" stroke-width="0.5"/>
<line x1="298.83" y1="415.22" x2="296.38" y2="421.16" stroke="#6a6a6a" stroke-width="0.5"/>
<line x1="300.74" y1="415.81" x2="298.29" y2="421.75" stroke="#6a6a6a" stroke-width="0.5"/>
<line x1="302.66" y1="416.4" x2="300.2" y2="422.34" stroke="#6a6a6a" stroke-width="0.5"/>
<line x1="304.57" y1="416.98" x2="302.11" y2="422.92" stroke="#6a6a6a" stroke-width="0.5"/>
<line x1="306.48" y1="417.57" x2="304.02" y2="423.51" stroke="#6a6a6a" stroke-width="0.5"/>
<line x1="308.39" y1="418.16" x2="305.94" y2="424.1" stroke="#6a6a6a" stroke-width="0.5"/>
<line x1="310.3" y1="418.75" x2="307.85" y2="424.69" stroke="#6a6a6a" stroke-width="0.5"/>
<line x1="312.21" y1="419.33" x2="309.76" y2="425.28" stroke="#6a6a6a" stroke-width="0.5"/>
<line x1="314.13" y1="419.92" x2="311.67" y2="425.86" stroke="#6a6a6a" stroke-width="0.5"/>
<line x1="316.04" y1="420.51" x2="313.58" y2="426.45" stroke="#6a6a6a" stroke-width="0.5"/>
<line x1="317.95" y1="421.1" x2="315.49" y2="427.04" stroke="#6a6a6a" stroke-width="0.5"/>
<line x1="319.86" y1="421.69" x2="317.41" y2="427.63" stroke="#6a6a6a" stroke-width="0.5"/>
<line x1="321.77" y1="422.27" x2="319.32" y2="428.22" stroke="#6a6a6a" stroke-width="0.5"/>
<line x1="323.68" y1="422.86" x2="321.23" y2="428.8" stroke="#6a6a6a" stroke-width="0.5"/>
<line x1="325.6" y1="423.45" x2="323.14" y2="429.39" stroke="#6a6a6a" stroke-width="0.5"/>
<line x1="327.51" y1="424.04" x2="325.05" y2="429.98" stroke="#6a6a6a" stroke-width="0.5"/>
<line x1="329.42" y1="424.63" x2="326.96" y2="430.57" stroke="#6a6a6a" stroke-width="0.5"/>
<ellipse cx="280.4" cy="412.9" rx="2" ry="4.6" stroke="#1c1c1c" stroke-width="1" fill="#1c1c1c" transform="rotate(17.09 280.4 412.9)"/>
<path d="M251.56 418.09 L317.06 438.23 L314.54 446.45 L249.04 426.31 Z" fill="#2a2a2a" stroke="#141414" stroke-width="1.3" stroke-linejoin="round"/>
<line x1="253.44" y1="419.82" x2="250.98" y2="425.76" stroke="#6a6a6a" stroke-width="0.5"/>
<line x1="255.35" y1="420.41" x2="252.9" y2="426.35" stroke="#6a6a6a" stroke-width="0.5"/>
<line x1="257.26" y1="420.99" x2="254.81" y2="426.93" stroke="#6a6a6a" stroke-width="0.5"/>
<line x1="259.17" y1="421.58" x2="256.72" y2="427.52" stroke="#6a6a6a" stroke-width="0.5"/>
<line x1="261.09" y1="422.17" x2="258.63" y2="428.11" stroke="#6a6a6a" stroke-width="0.5"/>
<line x1="263" y1="422.76" x2="260.54" y2="428.7" stroke="#6a6a6a" stroke-width="0.5"/>
<line x1="264.91" y1="423.34" x2="262.45" y2="429.29" stroke="#6a6a6a" stroke-width="0.5"/>
<line x1="266.82" y1="423.93" x2="264.37" y2="429.87" stroke="#6a6a6a" stroke-width="0.5"/>
<line x1="268.73" y1="424.52" x2="266.28" y2="430.46" stroke="#6a6a6a" stroke-width="0.5"/>
<line x1="270.64" y1="425.11" x2="268.19" y2="431.05" stroke="#6a6a6a" stroke-width="0.5"/>
<line x1="272.56" y1="425.7" x2="270.1" y2="431.64" stroke="#6a6a6a" stroke-width="0.5"/>
<line x1="274.47" y1="426.28" x2="272.01" y2="432.22" stroke="#6a6a6a" stroke-width="0.5"/>
<line x1="276.38" y1="426.87" x2="273.92" y2="432.81" stroke="#6a6a6a" stroke-width="0.5"/>
<line x1="278.29" y1="427.46" x2="275.84" y2="433.4" stroke="#6a6a6a" stroke-width="0.5"/>
<line x1="280.2" y1="428.05" x2="277.75" y2="433.99" stroke="#6a6a6a" stroke-width="0.5"/>
<line x1="282.11" y1="428.63" x2="279.66" y2="434.58" stroke="#6a6a6a" stroke-width="0.5"/>
<line x1="284.03" y1="429.22" x2="281.57" y2="435.16" stroke="#6a6a6a" stroke-width="0.5"/>
<line x1="285.94" y1="429.81" x2="283.48" y2="435.75" stroke="#6a6a6a" stroke-width="0.5"/>
<line x1="287.85" y1="430.4" x2="285.39" y2="436.34" stroke="#6a6a6a" stroke-width="0.5"/>
<line x1="289.76" y1="430.99" x2="287.31" y2="436.93" stroke="#6a6a6a" stroke-width="0.5"/>
<line x1="291.67" y1="431.57" x2="289.22" y2="437.52" stroke="#6a6a6a" stroke-width="0.5"/>
<line x1="293.58" y1="432.16" x2="291.13" y2="438.1" stroke="#6a6a6a" stroke-width="0.5"/>
<line x1="295.5" y1="432.75" x2="293.04" y2="438.69" stroke="#6a6a6a" stroke-width="0.5"/>
<line x1="297.41" y1="433.34" x2="294.95" y2="439.28" stroke="#6a6a6a" stroke-width="0.5"/>
<line x1="299.32" y1="433.93" x2="296.86" y2="439.87" stroke="#6a6a6a" stroke-width="0.5"/>
<line x1="301.23" y1="434.51" x2="298.78" y2="440.45" stroke="#6a6a6a" stroke-width="0.5"/>
<line x1="303.14" y1="435.1" x2="300.69" y2="441.04" stroke="#6a6a6a" stroke-width="0.5"/>
<line x1="305.05" y1="435.69" x2="302.6" y2="441.63" stroke="#6a6a6a" stroke-width="0.5"/>
<line x1="306.97" y1="436.28" x2="304.51" y2="442.22" stroke="#6a6a6a" stroke-width="0.5"/>
<line x1="308.88" y1="436.86" x2="306.42" y2="442.81" stroke="#6a6a6a" stroke-width="0.5"/>
<line x1="310.79" y1="437.45" x2="308.33" y2="443.39" stroke="#6a6a6a" stroke-width="0.5"/>
<line x1="312.7" y1="438.04" x2="310.25" y2="443.98" stroke="#6a6a6a" stroke-width="0.5"/>
<line x1="314.61" y1="438.63" x2="312.16" y2="444.57" stroke="#6a6a6a" stroke-width="0.5"/>
<ellipse cx="250.3" cy="422.2" rx="2" ry="4.6" stroke="#1c1c1c" stroke-width="1" fill="#1c1c1c" transform="rotate(17.09 250.3 422.2)"/>
<ellipse cx="315.8" cy="442.34" rx="3" ry="4.7" stroke="#1c1c1c" stroke-width="1.4" fill="#fff" transform="rotate(17.09 315.8 442.34)"/>
<ellipse cx="315.8" cy="442.34" rx="1.3" ry="2.3" stroke="#1c1c1c" stroke-width="1.3" fill="#bbb" transform="rotate(17.09 315.8 442.34)"/>
<ellipse cx="823" cy="641.5" rx="4.6" ry="1" stroke="#151515" stroke-width="1.5" fill="#777"/>
<path d="M819.4 651.4 Q823 650.4 826.6 651.4 L826.6 657.6 L827.8 658.6 Q827.8 661.4 823 661.4 Q818.2 661.4 818.2 658.6 L819.4 657.6 Z" stroke="#1a1a1a" stroke-width="1" fill="#fff"/>
<path d="M819.4 657.6 Q823 659.4 826.6 657.6" stroke="#1a1a1a" stroke-width="0.9" fill="none"/>
<line x1="819" y1="661.6" x2="827" y2="661.6" stroke="#1a1a1a" stroke-width="1.4"/>
<ellipse cx="842.2" cy="641.5" rx="4.6" ry="1" stroke="#151515" stroke-width="1.5" fill="#777"/>
<path d="M838.6 651.4 Q842.2 650.4 845.8 651.4 L845.8 657.6 L847 658.6 Q847 661.4 842.2 661.4 Q837.4 661.4 837.4 658.6 L838.6 657.6 Z" stroke="#1a1a1a" stroke-width="1" fill="#fff"/>
<path d="M838.6 657.6 Q842.2 659.4 845.8 657.6" stroke="#1a1a1a" stroke-width="0.9" fill="none"/>
<line x1="838.2" y1="661.6" x2="846.2" y2="661.6" stroke="#1a1a1a" stroke-width="1.4"/>
<ellipse cx="111.82" cy="353.18" rx="2.4" ry="3.1" stroke="#1a1a1a" stroke-width="1" fill="#fff" transform="rotate(15 111.82 353.18)"/>
<ellipse cx="117.27" cy="361.36" rx="1.9" ry="2.3" stroke="#1a1a1a" stroke-width="1" fill="#fff" transform="rotate(15 117.27 361.36)"/>
<ellipse cx="87.27" cy="370.91" rx="1.9" ry="2.4" stroke="#1a1a1a" stroke-width="1" fill="#fff" transform="rotate(15 87.27 370.91)"/>
<ellipse cx="200.2" cy="549.8" rx="1.9" ry="2.9" stroke="#111" stroke-width="1.95" fill="#fff" transform="rotate(-15 200.2 549.8)"/>
<ellipse cx="200.4" cy="570.6" rx="1.9" ry="2.9" stroke="#111" stroke-width="1.95" fill="#fff" transform="rotate(-15 200.4 570.6)"/>
<ellipse cx="297" cy="600.6" rx="1.9" ry="2.9" stroke="#111" stroke-width="1.95" fill="#fff" transform="rotate(-15 297 600.6)"/>
<path d="M169.93 557.41 L178.08 554.92 Q180.14 556.13 179.15 558.3 L171.04 560.94 Z" stroke="#1a1a1a" stroke-width="0.9" fill="#fff"/>
<path d="M165.71 557.58 L170.43 556.32 L172.08 561.54 L167.49 563.22 Z" stroke="#1a1a1a" stroke-width="0.9" fill="#fff"/>
<ellipse cx="166.6" cy="560.4" rx="2.15" ry="3.03" stroke="#1a1a1a" stroke-width="0.95" fill="#fff" transform="rotate(-17.5 166.6 560.4)"/>
<ellipse cx="166.89" cy="560.31" rx="0.81" ry="1.04" stroke="#1a1a1a" stroke-width="0.9" fill="#fff" transform="rotate(-17.5 166.89 560.31)"/>
<path d="M169.93 577.61 L178.08 575.12 Q180.14 576.33 179.15 578.5 L171.04 581.14 Z" stroke="#1a1a1a" stroke-width="0.9" fill="#fff"/>
<path d="M165.71 577.78 L170.43 576.52 L172.08 581.74 L167.49 583.42 Z" stroke="#1a1a1a" stroke-width="0.9" fill="#fff"/>
<ellipse cx="166.6" cy="580.6" rx="2.15" ry="3.03" stroke="#1a1a1a" stroke-width="0.95" fill="#fff" transform="rotate(-17.5 166.6 580.6)"/>
<ellipse cx="166.89" cy="580.51" rx="0.81" ry="1.04" stroke="#1a1a1a" stroke-width="0.9" fill="#fff" transform="rotate(-17.5 166.89 580.51)"/>
<path d="M266.73 608.21 L274.88 605.72 Q276.94 606.93 275.95 609.1 L267.84 611.74 Z" stroke="#1a1a1a" stroke-width="0.9" fill="#fff"/>
<path d="M262.51 608.38 L267.23 607.12 L268.88 612.34 L264.29 614.02 Z" stroke="#1a1a1a" stroke-width="0.9" fill="#fff"/>
<ellipse cx="263.4" cy="611.2" rx="2.15" ry="3.03" stroke="#1a1a1a" stroke-width="0.95" fill="#fff" transform="rotate(-17.5 263.4 611.2)"/>
<ellipse cx="263.69" cy="611.11" rx="0.81" ry="1.04" stroke="#1a1a1a" stroke-width="0.9" fill="#fff" transform="rotate(-17.5 263.69 611.11)"/>
<ellipse cx="409.3" cy="484.4" rx="1.9" ry="2.9" stroke="#111" stroke-width="1.95" fill="#fff" transform="rotate(-15 409.3 484.4)"/>
<ellipse cx="409.3" cy="504.6" rx="1.9" ry="2.9" stroke="#111" stroke-width="1.95" fill="#fff" transform="rotate(-15 409.3 504.6)"/>
<ellipse cx="505.8" cy="535.2" rx="1.9" ry="2.9" stroke="#111" stroke-width="1.95" fill="#fff" transform="rotate(-15 505.8 535.2)"/>
<path d="M424.23 477.79 L430.66 475.13 L433.12 473.31 L435.19 472.65 Q437.13 472.15 437.79 474.25 L438.51 476.53 Q439.17 478.63 437.3 479.33 L435.23 479.98 L432.16 479.9 L425.37 481.41 Z" stroke="#1a1a1a" stroke-width="0.95" fill="#fff"/>
<path d="M433.12 473.31 Q435.94 476.09 435.23 479.98" stroke="#1a1a1a" stroke-width="0.8" fill="none"/>
<ellipse cx="424.8" cy="479.6" rx="1.4" ry="2" stroke="#1a1a1a" stroke-width="0.95" fill="#fff" transform="rotate(-17.5 424.8 479.6)"/>
<path d="M424.23 497.79 L430.66 495.13 L433.12 493.31 L435.19 492.65 Q437.13 492.15 437.79 494.25 L438.51 496.53 Q439.17 498.63 437.3 499.33 L435.23 499.98 L432.16 499.9 L425.37 501.41 Z" stroke="#1a1a1a" stroke-width="0.95" fill="#fff"/>
<path d="M433.12 493.31 Q435.94 496.09 435.23 499.98" stroke="#1a1a1a" stroke-width="0.8" fill="none"/>
<ellipse cx="424.8" cy="499.6" rx="1.4" ry="2" stroke="#1a1a1a" stroke-width="0.95" fill="#fff" transform="rotate(-17.5 424.8 499.6)"/>
<path d="M521.03 528.99 L527.46 526.33 L529.92 524.51 L531.99 523.85 Q533.93 523.35 534.59 525.45 L535.31 527.73 Q535.97 529.83 534.1 530.53 L532.03 531.18 L528.96 531.1 L522.17 532.61 Z" stroke="#1a1a1a" stroke-width="0.95" fill="#fff"/>
<path d="M529.92 524.51 Q532.74 527.29 532.03 531.18" stroke="#1a1a1a" stroke-width="0.8" fill="none"/>
<ellipse cx="521.6" cy="530.8" rx="1.4" ry="2" stroke="#1a1a1a" stroke-width="0.95" fill="#fff" transform="rotate(-17.5 521.6 530.8)"/>
<ellipse cx="543.6" cy="285.4" rx="2.7" ry="3.7" stroke="#111" stroke-width="1.9" fill="#fff" transform="rotate(8 543.6 285.4)"/>
<ellipse cx="514.8" cy="294.8" rx="2.7" ry="3.7" stroke="#111" stroke-width="1.9" fill="#fff" transform="rotate(8 514.8 294.8)"/>
<ellipse cx="543.6" cy="317" rx="2.7" ry="3.7" stroke="#111" stroke-width="1.9" fill="#fff" transform="rotate(8 543.6 317)"/>
<ellipse cx="515.2" cy="325.4" rx="2.7" ry="3.7" stroke="#111" stroke-width="1.9" fill="#fff" transform="rotate(8 515.2 325.4)"/>
<path d="M580.6 299.53 L572.05 296.73 Q571.25 293.96 573.49 292.15 L582.11 294.76 Z" stroke="#1a1a1a" stroke-width="0.9" fill="#fff"/>
<path d="M585.4 302.61 L579.19 300.34 L581.42 293.29 L587.8 294.99 Z" stroke="#1a1a1a" stroke-width="0.9" fill="#fff"/>
<ellipse cx="586.6" cy="298.8" rx="2.9" ry="4.1" stroke="#1a1a1a" stroke-width="0.95" fill="#fff" transform="rotate(197.5 586.6 298.8)"/>
<ellipse cx="586.31" cy="298.71" rx="1.1" ry="1.4" stroke="#1a1a1a" stroke-width="0.9" fill="#fff" transform="rotate(197.5 586.31 298.71)"/>
<path d="M551.4 308.93 L542.85 306.13 Q542.05 303.36 544.29 301.55 L552.91 304.16 Z" stroke="#1a1a1a" stroke-width="0.9" fill="#fff"/>
<path d="M556.2 312.01 L549.99 309.74 L552.22 302.69 L558.6 304.39 Z" stroke="#1a1a1a" stroke-width="0.9" fill="#fff"/>
<ellipse cx="557.4" cy="308.2" rx="2.9" ry="4.1" stroke="#1a1a1a" stroke-width="0.95" fill="#fff" transform="rotate(197.5 557.4 308.2)"/>
<ellipse cx="557.11" cy="308.11" rx="1.1" ry="1.4" stroke="#1a1a1a" stroke-width="0.9" fill="#fff" transform="rotate(197.5 557.11 308.11)"/>
<path d="M580.6 331.53 L572.05 328.73 Q571.25 325.96 573.49 324.15 L582.11 326.76 Z" stroke="#1a1a1a" stroke-width="0.9" fill="#fff"/>
<path d="M585.4 334.61 L579.19 332.34 L581.42 325.29 L587.8 326.99 Z" stroke="#1a1a1a" stroke-width="0.9" fill="#fff"/>
<ellipse cx="586.6" cy="330.8" rx="2.9" ry="4.1" stroke="#1a1a1a" stroke-width="0.95" fill="#fff" transform="rotate(197.5 586.6 330.8)"/>
<ellipse cx="586.31" cy="330.71" rx="1.1" ry="1.4" stroke="#1a1a1a" stroke-width="0.9" fill="#fff" transform="rotate(197.5 586.31 330.71)"/>
<path d="M551.6 340.63 L543.05 337.83 Q542.25 335.06 544.49 333.25 L553.11 335.86 Z" stroke="#1a1a1a" stroke-width="0.9" fill="#fff"/>
<path d="M556.4 343.71 L550.19 341.44 L552.42 334.39 L558.8 336.09 Z" stroke="#1a1a1a" stroke-width="0.9" fill="#fff"/>
<ellipse cx="557.6" cy="339.9" rx="2.9" ry="4.1" stroke="#1a1a1a" stroke-width="0.95" fill="#fff" transform="rotate(197.5 557.6 339.9)"/>
<ellipse cx="557.31" cy="339.81" rx="1.1" ry="1.4" stroke="#1a1a1a" stroke-width="0.9" fill="#fff" transform="rotate(197.5 557.31 339.81)"/>
<path d="M432.25 435.92L461.01 444.5Q465.83 446.01 465.07 450.98Q463.87 456.25 459.05 455.04L434.96 447.96Z" stroke="#1a1a1a" stroke-width="1" fill="#fff"/>
<ellipse cx="461.31" cy="449.77" rx="3.7" ry="5.5" stroke="#1a1a1a" stroke-width="1" fill="#fff" transform="rotate(17 461.31 449.77)"/>
<path d="M332.58 420.86L347.64 406.56L406.36 428.39L394.31 472.05L330.33 453.99L328.07 435.17Z" stroke="none" stroke-width="0" fill="#fff"/>
<path d="M330.33 453.99L392.51 472.81" stroke="#1a1a1a" stroke-width="1" fill="none"/>
<path d="M383.77 447.96L392.05 433.96L404.1 429.45L419.15 425.38L427.13 421.32L432.25 424.03L440.38 435.17L436.77 450.22L430.45 463.77L397.62 475.22L392.51 472.81L383.77 456.55Z" stroke="#1a1a1a" stroke-width="1" fill="#fff"/>
<path d="M386.48 456.25L386.48 448.42L393.71 435.47L404.85 431.55M421.11 427.04L427.74 423.72M386.48 456.25L394.31 471.3L398.83 473.11" stroke="#1a1a1a" stroke-width="0.9" fill="none"/>
<ellipse cx="398.83" cy="436.67" rx="1.5" ry="1.9" stroke="#1a1a1a" stroke-width="0.9" fill="#fff" transform="rotate(15 398.83 436.67)"/>
<ellipse cx="428.34" cy="427.04" rx="1.5" ry="1.9" stroke="#1a1a1a" stroke-width="0.9" fill="#fff" transform="rotate(15 428.34 427.04)"/>
<ellipse cx="398.83" cy="468.29" rx="1.5" ry="1.9" stroke="#1a1a1a" stroke-width="0.9" fill="#fff" transform="rotate(15 398.83 468.29)"/>
<ellipse cx="418.1" cy="446.91" rx="14.6" ry="18.2" stroke="#1a1a1a" stroke-width="1" fill="#fff" transform="rotate(14 418.1 446.91)"/>
<path d="M406.36 430.35Q398.83 438.18 401.24 453.23Q403.35 460.76 407.86 465.28" stroke="#1a1a1a" stroke-width="1" fill="none"/>
<path d="M408.61 429.45Q400.94 437.88 403.35 453.23Q405.45 460.76 410.57 466.03" stroke="#1a1a1a" stroke-width="0.9" fill="none"/>
<path d="M391 448.42L421.11 457.45Q425.63 458.96 424.72 463.47Q423.22 468.59 418.7 467.39L389.49 458.96Q387.09 453.23 391 448.42Z" stroke="#1a1a1a" stroke-width="1" fill="#fff"/>
<ellipse cx="421.41" cy="462.42" rx="3.5" ry="5.2" stroke="#1a1a1a" stroke-width="1" fill="#fff" transform="rotate(17 421.41 462.42)"/>
<path d="M401.84 462.57Q409.37 467.09 415.39 467.09" stroke="#1a1a1a" stroke-width="1.6" fill="none"/>
<path d="M329.87 430.35L381.97 445.1L380.46 454.44L329.27 439.38Z" fill="#1c1c1c" stroke="#1c1c1c" stroke-width="1"/>
<line x1="331.9" y1="431.7" x2="330.67" y2="438.94" stroke="#666" stroke-width="0.45"/>
<line x1="333.48" y1="432.15" x2="332.22" y2="439.39" stroke="#666" stroke-width="0.45"/>
<line x1="335.06" y1="432.59" x2="333.77" y2="439.85" stroke="#666" stroke-width="0.45"/>
<line x1="336.64" y1="433.04" x2="335.33" y2="440.3" stroke="#666" stroke-width="0.45"/>
<line x1="338.22" y1="433.49" x2="336.88" y2="440.76" stroke="#666" stroke-width="0.45"/>
<line x1="339.8" y1="433.94" x2="338.43" y2="441.22" stroke="#666" stroke-width="0.45"/>
<line x1="341.38" y1="434.38" x2="339.98" y2="441.67" stroke="#666" stroke-width="0.45"/>
<line x1="342.95" y1="434.83" x2="341.53" y2="442.13" stroke="#666" stroke-width="0.45"/>
<line x1="344.53" y1="435.28" x2="343.08" y2="442.59" stroke="#666" stroke-width="0.45"/>
<line x1="346.11" y1="435.72" x2="344.63" y2="443.04" stroke="#666" stroke-width="0.45"/>
<line x1="347.69" y1="436.17" x2="346.18" y2="443.5" stroke="#666" stroke-width="0.45"/>
<line x1="349.27" y1="436.62" x2="347.74" y2="443.95" stroke="#666" stroke-width="0.45"/>
<line x1="350.85" y1="437.07" x2="349.29" y2="444.41" stroke="#666" stroke-width="0.45"/>
<line x1="352.43" y1="437.51" x2="350.84" y2="444.87" stroke="#666" stroke-width="0.45"/>
<line x1="354" y1="437.96" x2="352.39" y2="445.32" stroke="#666" stroke-width="0.45"/>
<line x1="355.58" y1="438.41" x2="353.94" y2="445.78" stroke="#666" stroke-width="0.45"/>
<line x1="357.16" y1="438.85" x2="355.49" y2="446.24" stroke="#666" stroke-width="0.45"/>
<line x1="358.74" y1="439.3" x2="357.04" y2="446.69" stroke="#666" stroke-width="0.45"/>
<line x1="360.32" y1="439.75" x2="358.59" y2="447.15" stroke="#666" stroke-width="0.45"/>
<line x1="361.9" y1="440.19" x2="360.14" y2="447.6" stroke="#666" stroke-width="0.45"/>
<line x1="363.48" y1="440.64" x2="361.7" y2="448.06" stroke="#666" stroke-width="0.45"/>
<line x1="365.05" y1="441.09" x2="363.25" y2="448.52" stroke="#666" stroke-width="0.45"/>
<line x1="366.63" y1="441.54" x2="364.8" y2="448.97" stroke="#666" stroke-width="0.45"/>
<line x1="368.21" y1="441.98" x2="366.35" y2="449.43" stroke="#666" stroke-width="0.45"/>
<line x1="369.79" y1="442.43" x2="367.9" y2="449.89" stroke="#666" stroke-width="0.45"/>
<line x1="371.37" y1="442.88" x2="369.45" y2="450.34" stroke="#666" stroke-width="0.45"/>
<line x1="372.95" y1="443.32" x2="371" y2="450.8" stroke="#666" stroke-width="0.45"/>
<line x1="374.53" y1="443.77" x2="372.55" y2="451.25" stroke="#666" stroke-width="0.45"/>
<line x1="376.1" y1="444.22" x2="374.11" y2="451.71" stroke="#666" stroke-width="0.45"/>
<line x1="377.68" y1="444.67" x2="375.66" y2="452.17" stroke="#666" stroke-width="0.45"/>
<line x1="379.26" y1="445.11" x2="377.21" y2="452.62" stroke="#666" stroke-width="0.45"/>
<line x1="380.84" y1="445.56" x2="378.76" y2="453.08" stroke="#666" stroke-width="0.45"/>
<path d="M380.76 445.4L384.68 446.91Q386.48 451.73 384.07 456.25L379.56 454.74Z" stroke="#1a1a1a" stroke-width="1" fill="#fff"/>
<path d="M322.35 433.36L332.58 419.81L344.33 405.66L347.94 406.86L349.45 409.57L335.59 424.93L329.27 435.17L331.08 443L334.09 442.69L332.58 446.01L329.27 452.03L325.06 451.43L322.65 439.68Z" stroke="#1a1a1a" stroke-width="1" fill="#fff"/>
<path d="M325.06 433.96L334.09 421.92L346.13 407.77M325.66 435.17L327.46 449.02L329.57 450.22" stroke="#1a1a1a" stroke-width="0.9" fill="none"/>
<path d="M348.84 406.26Q359.68 409.57 359.68 418.61Q357.88 427.64 342.82 427.04" stroke="#222" stroke-width="2.6" fill="none"/>
<path d="M348.84 406.26Q359.68 409.57 359.68 418.61Q357.88 427.64 342.82 427.04" stroke="#fff" stroke-width="1" fill="none"/>
<path d="M337.4 402.65Q336.5 404.45 337.7 405.96L347.64 408.37L349.45 405.66L340.71 402.65Z" stroke="#1a1a1a" stroke-width="1" fill="#fff"/>
<path d="M342.22 403.25L341.01 406.56M345.53 404.45L344.63 407.46" stroke="#1a1a1a" stroke-width="0.9" fill="none"/>
<path d="M334.99 424.33Q334.09 426.13 335.29 427.94L342.22 428.54L343.12 425.53L338 424.03Z" stroke="#1a1a1a" stroke-width="1" fill="#fff"/>
<path d="M339.21 424.63L338.61 428.24" stroke="#1a1a1a" stroke-width="0.9" fill="none"/>
<path d="M362.09 411.08L362.39 406.56Q363.6 403.85 366.91 404.45L388.89 411.98L388.29 418.91L367.81 412.28L367.51 408.97L365.1 409.27L365.1 413.49L362.39 414.09Z" stroke="#1a1a1a" stroke-width="1" fill="#fff"/>
<path d="M367.81 412.28L373.23 414.39M370.52 413.49L385.28 418.91" stroke="#1a1a1a" stroke-width="0.9" fill="none"/>
<path d="M388.29 412.58L396.72 408.67L415.39 415.29L418.7 418L417.8 424.03L410.57 426.43L403.65 427.94L388.89 421.01Z" stroke="#1a1a1a" stroke-width="1" fill="#fff"/>
<path d="M388.29 412.58L406.36 418.91L415.39 415.29M406.36 418.91L406.06 426.74" stroke="#1a1a1a" stroke-width="0.9" fill="none"/>
<ellipse cx="390.55" cy="418.3" rx="2.2" ry="2.9" stroke="#111" stroke-width="1.7" fill="#555" transform="rotate(15 390.55 418.3)"/>
<ellipse cx="399.73" cy="421.32" rx="2.2" ry="2.9" stroke="#111" stroke-width="1.7" fill="#555" transform="rotate(15 399.73 421.32)"/>
<path d="M410.57 418.61Q411.17 417.1 413.88 417.1L417.8 418.3Q419 420.11 418.1 423.72Q416.59 426.13 413.88 425.53L410.57 424.33Q409.67 421.32 410.57 418.61Z" stroke="#1a1a1a" stroke-width="1" fill="#fff"/>
<ellipse cx="414.79" cy="421.32" rx="3.2" ry="4.1" stroke="#1a1a1a" stroke-width="0.9" fill="#fff" transform="rotate(15 414.79 421.32)"/>
<line x1="288.5" y1="7.6" x2="314" y2="7.6" stroke="#1a1a1a" stroke-width="1.1"/>
<polygon points="322.5,7.6 312,10.3 312,4.9" fill="#1a1a1a"/>
<line x1="286.5" y1="57.3" x2="315.8" y2="57.3" stroke="#1a1a1a" stroke-width="1.1"/>
<polygon points="324.3,57.3 313.8,60 313.8,54.6" fill="#1a1a1a"/>
<line x1="372.5" y1="66.4" x2="336.8" y2="66.4" stroke="#1a1a1a" stroke-width="1.1"/>
<polygon points="328.3,66.4 338.8,63.7 338.8,69.1" fill="#1a1a1a"/>
<line x1="288.5" y1="89" x2="309.5" y2="89" stroke="#1a1a1a" stroke-width="1.1"/>
<polygon points="318,89 307.5,91.7 307.5,86.3" fill="#1a1a1a"/>
<line x1="288.5" y1="107.6" x2="311.3" y2="107.6" stroke="#1a1a1a" stroke-width="1.1"/>
<polygon points="319.8,107.6 309.3,110.3 309.3,104.9" fill="#1a1a1a"/>
<line x1="435.6" y1="117.5" x2="435.6" y2="137.8" stroke="#1a1a1a" stroke-width="1.1"/>
<polygon points="435.6,146.3 432.9,135.8 438.3,135.8" fill="#1a1a1a"/>
<line x1="135" y1="264" x2="91.7" y2="264" stroke="#1a1a1a" stroke-width="1.1"/>
<polygon points="83.2,264 93.7,261.3 93.7,266.7" fill="#1a1a1a"/>
<line x1="28.8" y1="281.8" x2="70.3" y2="281.8" stroke="#1a1a1a" stroke-width="1.1"/>
<polygon points="78.8,281.8 68.3,284.5 68.3,279.1" fill="#1a1a1a"/>
<line x1="135" y1="329" x2="91.9" y2="329" stroke="#1a1a1a" stroke-width="1.1"/>
<polygon points="83.4,329 93.9,326.3 93.9,331.7" fill="#1a1a1a"/>
<line x1="16.5" y1="412.3" x2="16.5" y2="336" stroke="#1a1a1a" stroke-width="1.1"/>
<polygon points="16.5,327.5 19.2,338 13.8,338" fill="#1a1a1a"/>
<line x1="69.5" y1="427.3" x2="69.5" y2="384.8" stroke="#1a1a1a" stroke-width="1.1"/>
<polygon points="69.5,376.3 72.2,386.8 66.8,386.8" fill="#1a1a1a"/>
<line x1="135.8" y1="447.3" x2="135.8" y2="397.3" stroke="#1a1a1a" stroke-width="1.1"/>
<polygon points="135.8,388.8 138.5,399.3 133.1,399.3" fill="#1a1a1a"/>
<line x1="207.5" y1="467.3" x2="207.5" y2="422.3" stroke="#1a1a1a" stroke-width="1.1"/>
<polygon points="207.5,413.8 210.2,424.3 204.8,424.3" fill="#1a1a1a"/>
<line x1="280" y1="488.8" x2="280" y2="444.8" stroke="#1a1a1a" stroke-width="1.1"/>
<polygon points="280,436.3 282.7,446.8 277.3,446.8" fill="#1a1a1a"/>
<line x1="406.3" y1="382.5" x2="406.3" y2="402.8" stroke="#1a1a1a" stroke-width="1.1"/>
<polygon points="406.3,411.3 403.6,400.8 409,400.8" fill="#1a1a1a"/>
<line x1="513.3" y1="363.6" x2="513.3" y2="338.5" stroke="#1a1a1a" stroke-width="1.1"/>
<polygon points="513.3,330 516,340.5 510.6,340.5" fill="#1a1a1a"/>
<line x1="556.8" y1="363.6" x2="556.8" y2="351" stroke="#1a1a1a" stroke-width="1.1"/>
<polygon points="556.8,342.5 559.5,353 554.1,353" fill="#1a1a1a"/>
<line x1="167.5" y1="634.3" x2="167.5" y2="591" stroke="#1a1a1a" stroke-width="1.1"/>
<polygon points="167.5,582.5 170.2,593 164.8,593" fill="#1a1a1a"/>
<line x1="200.8" y1="634.3" x2="200.8" y2="582.3" stroke="#1a1a1a" stroke-width="1.1"/>
<polygon points="200.8,573.8 203.5,584.3 198.1,584.3" fill="#1a1a1a"/>
<line x1="264.5" y1="634.3" x2="264.5" y2="621.5" stroke="#1a1a1a" stroke-width="1.1"/>
<polygon points="264.5,613 267.2,623.5 261.8,623.5" fill="#1a1a1a"/>
<line x1="296.8" y1="634.3" x2="296.8" y2="612.3" stroke="#1a1a1a" stroke-width="1.1"/>
<polygon points="296.8,603.8 299.5,614.3 294.1,614.3" fill="#1a1a1a"/>
<line x1="413.9" y1="634.3" x2="413.9" y2="592.8" stroke="#1a1a1a" stroke-width="1.1"/>
<polygon points="413.9,584.3 416.6,594.8 411.2,594.8" fill="#1a1a1a"/>
<line x1="564.5" y1="540.5" x2="589" y2="540.5" stroke="#1a1a1a" stroke-width="1.1"/>
<polygon points="597.5,540.5 587,543.2 587,537.8" fill="#1a1a1a"/>
<line x1="629.5" y1="471.8" x2="629.5" y2="481.5" stroke="#1a1a1a" stroke-width="1.1"/>
<polygon points="629.5,490 626.8,479.5 632.2,479.5" fill="#1a1a1a"/>
<line x1="669.5" y1="471.8" x2="669.5" y2="482.8" stroke="#1a1a1a" stroke-width="1.1"/>
<polygon points="669.5,491.3 666.8,480.8 672.2,480.8" fill="#1a1a1a"/>
<line x1="704.5" y1="471.8" x2="704.5" y2="479" stroke="#1a1a1a" stroke-width="1.1"/>
<polygon points="704.5,487.5 701.8,477 707.2,477" fill="#1a1a1a"/>
<line x1="781.3" y1="471.8" x2="781.3" y2="480.3" stroke="#1a1a1a" stroke-width="1.1"/>
<polygon points="781.3,488.8 778.6,478.3 784,478.3" fill="#1a1a1a"/>
<line x1="680.8" y1="606.3" x2="680.8" y2="595.5" stroke="#1a1a1a" stroke-width="1.1"/>
<polygon points="680.8,587 683.5,597.5 678.1,597.5" fill="#1a1a1a"/>
<line x1="719.8" y1="606.3" x2="719.8" y2="579" stroke="#1a1a1a" stroke-width="1.1"/>
<polygon points="719.8,570.5 722.5,581 717.1,581" fill="#1a1a1a"/>
<line x1="744.3" y1="606.3" x2="744.3" y2="577.8" stroke="#1a1a1a" stroke-width="1.1"/>
<polygon points="744.3,569.3 747,579.8 741.6,579.8" fill="#1a1a1a"/>
<line x1="759" y1="606.3" x2="759" y2="578.5" stroke="#1a1a1a" stroke-width="1.1"/>
<polygon points="759,570 761.7,580.5 756.3,580.5" fill="#1a1a1a"/>
<line x1="941.3" y1="537.3" x2="888.5" y2="537.3" stroke="#1a1a1a" stroke-width="1.1"/>
<polygon points="880,537.3 890.5,534.6 890.5,540" fill="#1a1a1a"/>
<line x1="948.8" y1="606.3" x2="948.8" y2="591" stroke="#1a1a1a" stroke-width="1.1"/>
<polygon points="948.8,582.5 951.5,593 946.1,593" fill="#1a1a1a"/>
<line x1="872" y1="641.3" x2="856" y2="641.3" stroke="#1a1a1a" stroke-width="1.1"/>
<polygon points="847.5,641.3 858,638.6 858,644" fill="#1a1a1a"/>
<line x1="872" y1="659.8" x2="856" y2="659.8" stroke="#1a1a1a" stroke-width="1.1"/>
<polygon points="847.5,659.8 858,657.1 858,662.5" fill="#1a1a1a"/>
<ellipse cx="82" cy="329.2" rx="1.5" ry="1.3" stroke="#1a1a1a" stroke-width="1" fill="#222"/>
<text transform="translate(0 14.4) scale(0.8 1)" x="350.38" y="0" font-size="18.8" text-anchor="middle" fill="#1a1a1a" stroke="#1a1a1a" stroke-width="0.3">6</text>
<text transform="translate(0 64.2) scale(0.8 1)" x="352.12" y="0" font-size="18.8" text-anchor="middle" fill="#1a1a1a" stroke="#1a1a1a" stroke-width="0.3">1</text>
<text transform="translate(0 73.3) scale(0.8 1)" x="475" y="0" font-size="18.8" text-anchor="middle" fill="#1a1a1a" stroke="#1a1a1a" stroke-width="0.3">2</text>
<text transform="translate(0 95.5) scale(0.8 1)" x="350.38" y="0" font-size="18.8" text-anchor="middle" fill="#1a1a1a" stroke="#1a1a1a" stroke-width="0.3">3</text>
<text transform="translate(0 114.2) scale(0.8 1)" x="350.38" y="0" font-size="18.8" text-anchor="middle" fill="#1a1a1a" stroke="#1a1a1a" stroke-width="0.3">4</text>
<text transform="translate(0 114.2) scale(0.8 1)" x="545.38" y="0" font-size="18.8" text-anchor="middle" fill="#1a1a1a" stroke="#1a1a1a" stroke-width="0.3">5</text>
<text transform="translate(0 271.2) scale(0.8 1)" x="177.31 189.44" y="0" font-size="18.8" text-anchor="middle" fill="#1a1a1a" stroke="#1a1a1a" stroke-width="0.3">20</text>
<text transform="translate(0 288.2) scale(0.8 1)" x="17.31 26.44" y="0" font-size="18.8" text-anchor="middle" fill="#1a1a1a" stroke="#1a1a1a" stroke-width="0.3">19</text>
<text transform="translate(0 336.3) scale(0.8 1)" x="179.44 190.31" y="0" font-size="18.8" text-anchor="middle" fill="#1a1a1a" stroke="#1a1a1a" stroke-width="0.3">21</text>
<text transform="translate(0 428.8) scale(0.8 1)" x="14.69 26.81" y="0" font-size="18.8" text-anchor="middle" fill="#1a1a1a" stroke="#1a1a1a" stroke-width="0.3">23</text>
<text transform="translate(0 444.3) scale(0.8 1)" x="80.94 93.06" y="0" font-size="18.8" text-anchor="middle" fill="#1a1a1a" stroke="#1a1a1a" stroke-width="0.3">22</text>
<text transform="translate(0 463.8) scale(0.8 1)" x="165.19 174.31" y="0" font-size="18.8" text-anchor="middle" fill="#1a1a1a" stroke="#1a1a1a" stroke-width="0.3">18</text>
<text transform="translate(0 483.8) scale(0.8 1)" x="254.81 263.94" y="0" font-size="18.8" text-anchor="middle" fill="#1a1a1a" stroke="#1a1a1a" stroke-width="0.3">17</text>
<line x1="208.85" y1="478.1" x2="214.15" y2="478.1" stroke="#1a1a1a" stroke-width="1.2"/>
<text transform="translate(0 505.5) scale(0.8 1)" x="345.31 354.44" y="0" font-size="18.8" text-anchor="middle" fill="#1a1a1a" stroke="#1a1a1a" stroke-width="0.3">17</text>
<line x1="281.25" y1="499.8" x2="286.55" y2="499.8" stroke="#1a1a1a" stroke-width="1.2"/>
<text transform="translate(0 380) scale(0.8 1)" x="507.88" y="0" font-size="18.8" text-anchor="middle" fill="#1a1a1a" stroke="#1a1a1a" stroke-width="0.3">7</text>
<line x1="404" y1="374.3" x2="409.3" y2="374.3" stroke="#1a1a1a" stroke-width="1.2"/>
<text transform="translate(0 380) scale(0.8 1)" x="636.44 648.56" y="0" font-size="18.8" text-anchor="middle" fill="#1a1a1a" stroke="#1a1a1a" stroke-width="0.3">24</text>
<text transform="translate(0 380) scale(0.8 1)" x="690.19 702.31" y="0" font-size="18.8" text-anchor="middle" fill="#1a1a1a" stroke="#1a1a1a" stroke-width="0.3">25</text>
<text transform="translate(0 650.5) scale(0.8 1)" x="204.19 216.31" y="0" font-size="18.8" text-anchor="middle" fill="#1a1a1a" stroke="#1a1a1a" stroke-width="0.3">28</text>
<text transform="translate(0 650.5) scale(0.8 1)" x="245.19 257.31" y="0" font-size="18.8" text-anchor="middle" fill="#1a1a1a" stroke="#1a1a1a" stroke-width="0.3">27</text>
<line x1="203.55" y1="644.8" x2="208.85" y2="644.8" stroke="#1a1a1a" stroke-width="1.2"/>
<text transform="translate(0 650.5) scale(0.8 1)" x="324.69 336.81" y="0" font-size="18.8" text-anchor="middle" fill="#1a1a1a" stroke="#1a1a1a" stroke-width="0.3">28</text>
<text transform="translate(0 650.5) scale(0.8 1)" x="365.44 377.56" y="0" font-size="18.8" text-anchor="middle" fill="#1a1a1a" stroke="#1a1a1a" stroke-width="0.3">27</text>
<line x1="299.75" y1="644.8" x2="305.05" y2="644.8" stroke="#1a1a1a" stroke-width="1.2"/>
<text transform="translate(0 650.5) scale(0.8 1)" x="510.94 523.06" y="0" font-size="18.8" text-anchor="middle" fill="#1a1a1a" stroke="#1a1a1a" stroke-width="0.3">26</text>
<text transform="translate(0 547) scale(0.8 1)" x="696.88" y="0" font-size="18.8" text-anchor="middle" fill="#1a1a1a" stroke="#1a1a1a" stroke-width="0.3">7</text>
<line x1="555.2" y1="541.3" x2="560.5" y2="541.3" stroke="#1a1a1a" stroke-width="1.2"/>
<text transform="translate(0 469.3) scale(0.8 1)" x="781.56 790.69" y="0" font-size="18.8" text-anchor="middle" fill="#1a1a1a" stroke="#1a1a1a" stroke-width="0.3">14</text>
<text transform="translate(0 469.3) scale(0.8 1)" x="832.06 841.19" y="0" font-size="18.8" text-anchor="middle" fill="#1a1a1a" stroke="#1a1a1a" stroke-width="0.3">13</text>
<text transform="translate(0 469.3) scale(0.8 1)" x="878.56 886.44" y="0" font-size="18.8" text-anchor="middle" fill="#1a1a1a" stroke="#1a1a1a" stroke-width="0.3">11</text>
<text transform="translate(0 469.3) scale(0.8 1)" x="976.88" y="0" font-size="18.8" text-anchor="middle" fill="#1a1a1a" stroke="#1a1a1a" stroke-width="0.3">9</text>
<text transform="translate(0 622.8) scale(0.8 1)" x="846.06 855.19" y="0" font-size="18.8" text-anchor="middle" fill="#1a1a1a" stroke="#1a1a1a" stroke-width="0.3">12</text>
<text transform="translate(0 622.8) scale(0.8 1)" x="900" y="0" font-size="18.8" text-anchor="middle" fill="#1a1a1a" stroke="#1a1a1a" stroke-width="0.3">2</text>
<text transform="translate(0 622.8) scale(0.8 1)" x="931.38" y="0" font-size="18.8" text-anchor="middle" fill="#1a1a1a" stroke="#1a1a1a" stroke-width="0.3">1</text>
<text transform="translate(0 622.8) scale(0.8 1)" x="948.75" y="0" font-size="18.8" text-anchor="middle" fill="#1a1a1a" stroke="#1a1a1a" stroke-width="0.3">2</text>
<text transform="translate(0 543.5) scale(0.8 1)" x="1186" y="0" font-size="18.8" text-anchor="middle" fill="#1a1a1a" stroke="#1a1a1a" stroke-width="0.3">8</text>
<text transform="translate(0 622.8) scale(0.8 1)" x="1181.06 1190.19" y="0" font-size="18.8" text-anchor="middle" fill="#1a1a1a" stroke="#1a1a1a" stroke-width="0.3">10</text>
<text transform="translate(0 648) scale(0.8 1)" x="1097.56 1106.69" y="0" font-size="18.8" text-anchor="middle" fill="#1a1a1a" stroke="#1a1a1a" stroke-width="0.3">15</text>
<text transform="translate(0 666) scale(0.8 1)" x="1097.56 1106.69" y="0" font-size="18.8" text-anchor="middle" fill="#1a1a1a" stroke="#1a1a1a" stroke-width="0.3">16</text>
</svg>
</body>
</html>
